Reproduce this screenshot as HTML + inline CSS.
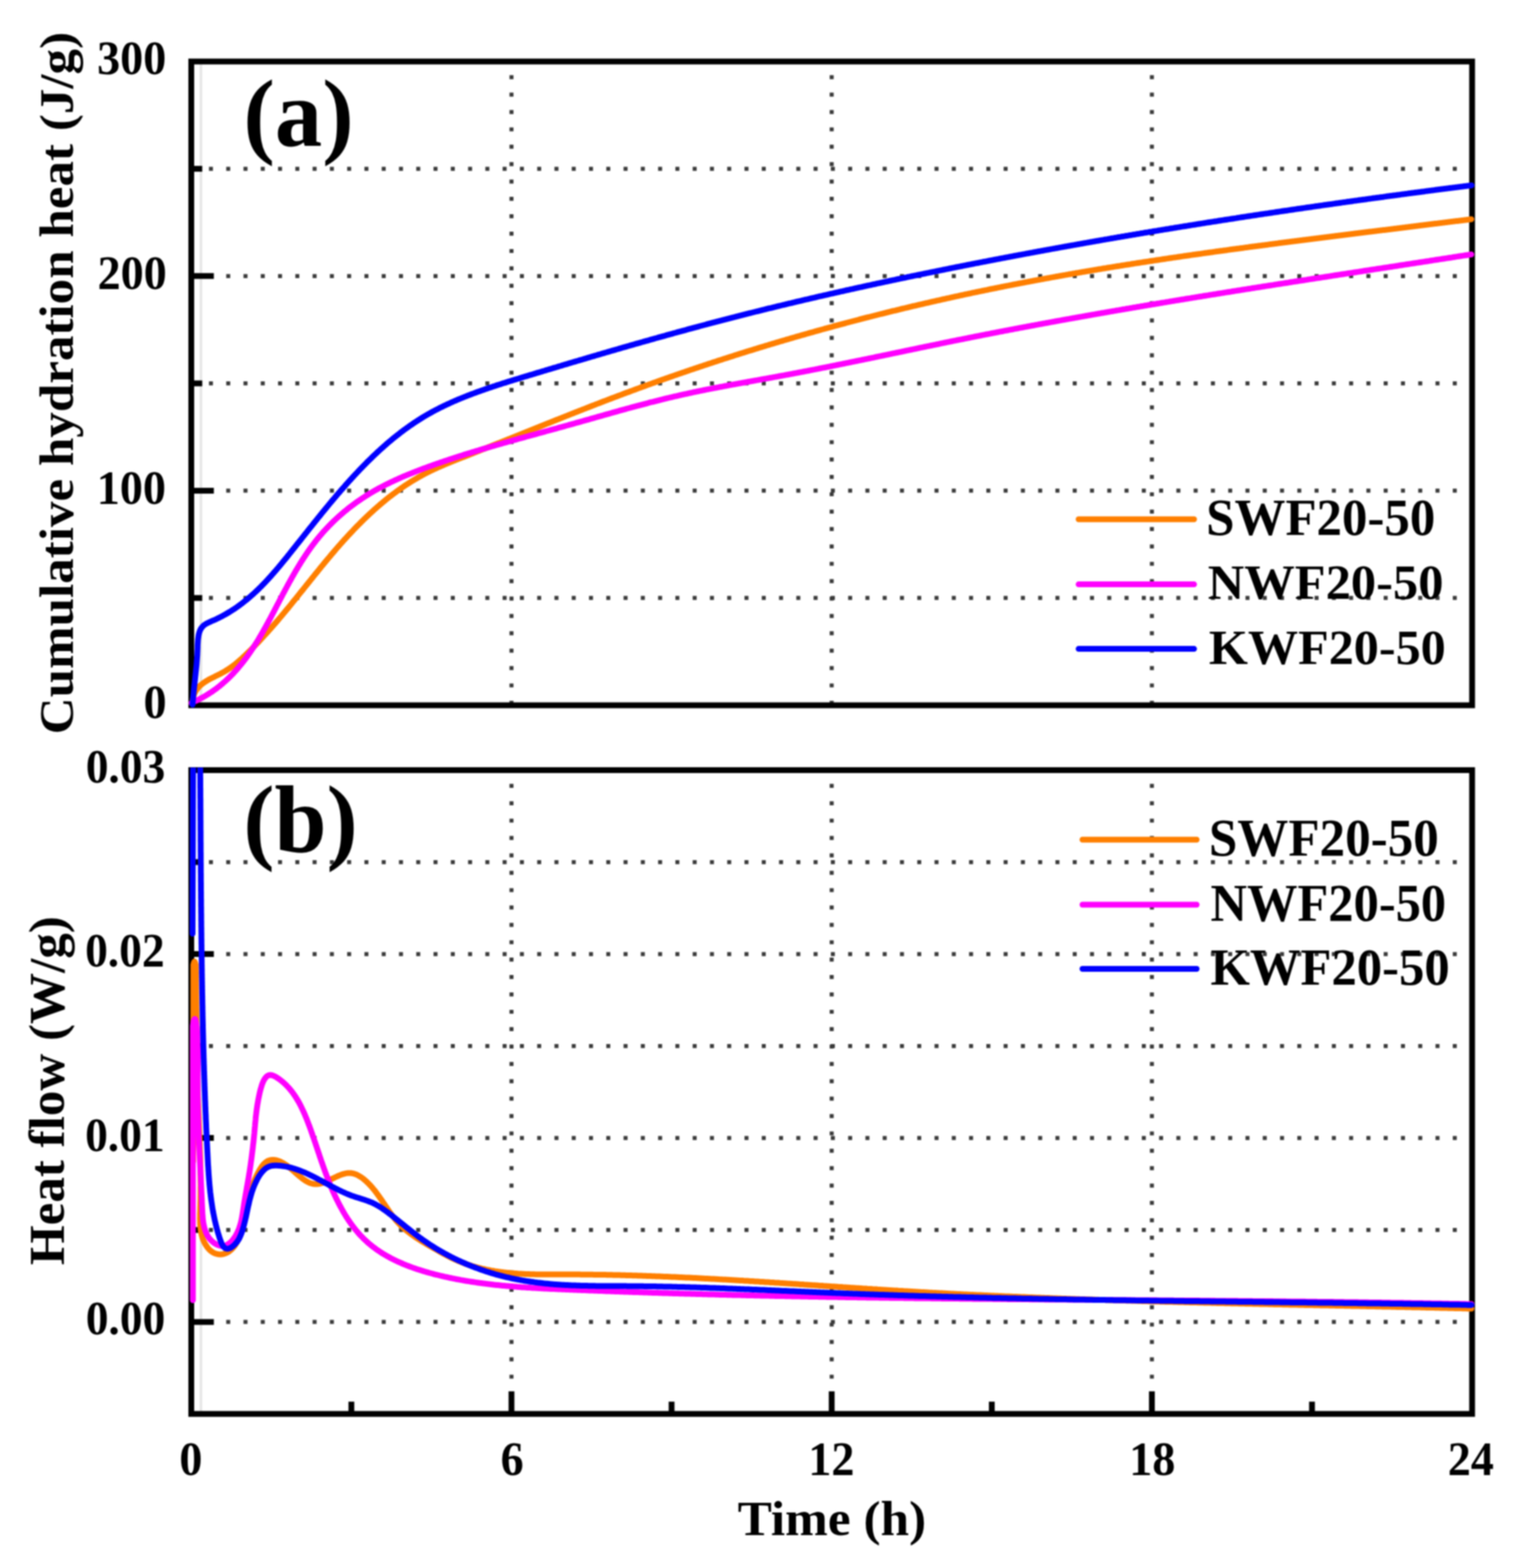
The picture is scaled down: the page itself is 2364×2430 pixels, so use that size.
<!DOCTYPE html>
<html><head><meta charset="utf-8"><title>Hydration heat</title>
<style>html,body{margin:0;padding:0;background:#fff;}svg{display:block;filter:blur(0.8px);}</style></head>
<body><svg xmlns="http://www.w3.org/2000/svg" width="2364" height="2430" viewBox="0 0 2364 2430">
<rect width="2364" height="2430" fill="#fff"/><g stroke="#e6e6e6" stroke-width="4"><line x1="311.5" y1="99.3" x2="311.5" y2="1089.0"/><line x1="311.5" y1="1197.5" x2="311.5" y2="2187.2"/></g><g stroke="#3a3a3a" stroke-width="6.2" stroke-dasharray="6.2 20.58"><line x1="323.90" y1="926.72" x2="2280.00" y2="926.72"/><line x1="323.90" y1="760.43" x2="2280.00" y2="760.43"/><line x1="323.90" y1="594.15" x2="2280.00" y2="594.15"/><line x1="323.90" y1="427.87" x2="2280.00" y2="427.87"/><line x1="323.90" y1="261.58" x2="2280.00" y2="261.58"/><line x1="323.90" y1="2048.67" x2="2280.00" y2="2048.67"/><line x1="323.90" y1="1906.14" x2="2280.00" y2="1906.14"/><line x1="323.90" y1="1763.61" x2="2280.00" y2="1763.61"/><line x1="323.90" y1="1621.09" x2="2280.00" y2="1621.09"/><line x1="323.90" y1="1478.56" x2="2280.00" y2="1478.56"/><line x1="323.90" y1="1336.03" x2="2280.00" y2="1336.03"/></g><g stroke="#3a3a3a" stroke-width="6.2" stroke-dasharray="6.2 20.73"><line x1="792.88" y1="116.60" x2="792.88" y2="1091.00"/><line x1="792.88" y1="1214.80" x2="792.88" y2="2189.20"/><line x1="1289.25" y1="116.60" x2="1289.25" y2="1091.00"/><line x1="1289.25" y1="1214.80" x2="1289.25" y2="2189.20"/><line x1="1785.62" y1="116.60" x2="1785.62" y2="1091.00"/><line x1="1785.62" y1="1214.80" x2="1785.62" y2="2189.20"/></g><g fill="none" stroke="#000" stroke-width="9.0" stroke-linejoin="miter"><rect x="296.5" y="95.3" width="1985.5" height="997.7"/><rect x="296.5" y="1193.5" width="1985.5" height="997.6999999999998"/></g><g stroke="#000" stroke-width="9.0"><line x1="296.5" y1="760.43" x2="331.5" y2="760.43"/><line x1="296.5" y1="427.87" x2="331.5" y2="427.87"/><line x1="296.5" y1="926.72" x2="313.5" y2="926.72"/><line x1="296.5" y1="594.15" x2="313.5" y2="594.15"/><line x1="296.5" y1="261.58" x2="313.5" y2="261.58"/><line x1="296.5" y1="2048.67" x2="331.5" y2="2048.67"/><line x1="296.5" y1="1763.61" x2="331.5" y2="1763.61"/><line x1="296.5" y1="1478.56" x2="331.5" y2="1478.56"/><line x1="296.5" y1="1906.14" x2="313.5" y2="1906.14"/><line x1="296.5" y1="1621.09" x2="313.5" y2="1621.09"/><line x1="296.5" y1="1336.03" x2="313.5" y2="1336.03"/><line x1="792.88" y1="2191.2" x2="792.88" y2="2156.2"/><line x1="1289.25" y1="2191.2" x2="1289.25" y2="2156.2"/><line x1="1785.62" y1="2191.2" x2="1785.62" y2="2156.2"/><line x1="544.69" y1="2191.2" x2="544.69" y2="2172.2"/><line x1="1041.06" y1="2191.2" x2="1041.06" y2="2172.2"/><line x1="1537.44" y1="2191.2" x2="1537.44" y2="2172.2"/><line x1="2033.81" y1="2191.2" x2="2033.81" y2="2172.2"/></g><defs><clipPath id="ca"><rect x="292.5" y="91.3" width="1993.5" height="1005.7"/></clipPath><clipPath id="cb"><rect x="292.5" y="1189.5" width="1993.5" height="1005.6999999999998"/></clipPath></defs><g fill="none" stroke-width="9.0" stroke-linecap="round" stroke-linejoin="round" clip-path="url(#ca)"><path stroke="#ff7f00" d="M298.4 1090.3L298.5 1087.9 298.7 1085.5 299.0 1083.3 299.4 1081.1 300.0 1079.1 300.6 1077.1 301.3 1075.2 302.1 1073.4 303.0 1071.7 304.0 1070.1 305.0 1068.5 306.2 1067.0 307.4 1065.6 308.6 1064.2 309.9 1062.9 311.3 1061.6 312.8 1060.4 314.3 1059.3 315.8 1058.1 317.4 1057.1 319.0 1056.0 320.7 1055.0 322.3 1054.0 324.1 1053.0 325.8 1052.1 327.6 1051.2 329.4 1050.3 331.2 1049.4 333.0 1048.5 334.8 1047.6 336.6 1046.7 338.4 1045.8 340.2 1044.9 342.0 1044.0 343.8 1043.0 345.6 1042.1 347.3 1041.1 349.0 1040.1 350.7 1039.0 352.4 1038.0 354.1 1036.9 355.7 1035.8 357.3 1034.7 358.9 1033.5 360.5 1032.4 362.1 1031.2 363.6 1030.0 365.2 1028.8 366.7 1027.5 368.2 1026.3 369.7 1025.0 371.2 1023.7 372.6 1022.4 374.1 1021.1 375.6 1019.8 377.0 1018.4 378.4 1017.1 379.9 1015.7 381.3 1014.4 382.7 1013.0 384.1 1011.6 385.5 1010.2 387.0 1008.9 388.4 1007.5 389.8 1006.1 391.2 1004.6 392.6 1003.2 394.0 1001.8 395.3 1000.4 396.7 998.9 398.1 997.5 399.5 996.1 400.9 994.6 402.2 993.2 403.6 991.7 405.0 990.2 406.3 988.8 407.7 987.3 409.0 985.8 410.4 984.3 411.7 982.9 413.1 981.4 414.4 979.9 415.8 978.4 417.1 976.9 418.4 975.4 419.8 973.9 421.1 972.4 422.4 970.9 423.7 969.3 425.1 967.8 426.4 966.3 427.7 964.8 429.0 963.2 430.3 961.7 431.6 960.2 432.9 958.6 434.2 957.1 435.5 955.6 436.8 954.0 438.1 952.5 439.4 950.9 440.7 949.4 441.9 947.9 443.2 946.3 444.5 944.8 445.8 943.2 447.1 941.7 448.3 940.1 449.6 938.6 450.9 937.0 452.1 935.5 453.4 933.9 454.6 932.3 455.9 930.8 457.2 929.2 458.4 927.7 459.7 926.1 460.9 924.6 462.2 923.0 463.4 921.4 464.7 919.9 465.9 918.3 467.2 916.8 468.4 915.2 469.7 913.7 470.9 912.1 472.2 910.5 473.4 909.0 474.7 907.4 475.9 905.9 477.2 904.3 478.4 902.7 479.7 901.2 480.9 899.6 482.2 898.1 483.4 896.5 484.7 895.0 485.9 893.4 487.2 891.9 488.4 890.3 489.7 888.8 490.9 887.2 492.2 885.7 493.4 884.1 494.7 882.6 495.9 881.0 497.2 879.5 498.4 877.9 499.7 876.4 501.0 874.8 502.2 873.3 503.5 871.8 504.8 870.2 506.0 868.7 507.3 867.2 508.6 865.6 509.9 864.1 511.2 862.6 512.4 861.1 513.7 859.5 515.0 858.0 516.3 856.5 517.6 855.0 518.9 853.5 520.2 851.9 521.5 850.4 522.8 848.9 524.1 847.4 525.5 845.9 526.8 844.4 528.1 842.9 529.4 841.4 530.8 839.9 532.1 838.4 533.4 836.9 534.8 835.4 536.1 834.0 537.5 832.5 538.8 831.0 540.2 829.5 541.5 828.1 542.9 826.6 544.3 825.1 545.7 823.7 547.1 822.2 548.4 820.8 549.8 819.3 551.2 817.9 552.6 816.4 554.0 815.0 555.4 813.6 556.9 812.1 558.3 810.7 559.7 809.3 561.1 807.9 562.6 806.5 564.0 805.0 565.4 803.6 566.9 802.3 568.3 800.9 569.8 799.5 571.3 798.1 572.7 796.7 574.2 795.4 575.7 794.0 577.2 792.6 578.7 791.3 580.1 789.9 581.6 788.6 583.1 787.3 584.7 785.9 586.2 784.6 587.7 783.3 589.2 782.0 590.7 780.7 592.3 779.4 593.8 778.1 595.4 776.9 596.9 775.6 598.5 774.3 600.0 773.1 601.6 771.8 603.1 770.6 604.7 769.3 606.3 768.1 607.9 766.9 609.5 765.7 611.1 764.5 612.7 763.3 614.3 762.1 615.9 760.9 617.5 759.8 619.1 758.6 620.8 757.4 622.4 756.3 624.1 755.2 625.7 754.0 627.4 752.9 629.0 751.8 630.7 750.7 632.3 749.6 634.0 748.6 635.7 747.5 637.4 746.4 639.1 745.4 640.8 744.4 642.5 743.3 644.2 742.3 645.9 741.3 647.6 740.3 649.4 739.3 651.1 738.3 652.8 737.4 654.6 736.4 656.3 735.5 658.1 734.5 659.9 733.6 661.6 732.7 663.4 731.8 665.2 730.9 667.0 730.0 668.8 729.2 670.6 728.3 672.4 727.5 674.2 726.6 676.0 725.8 677.8 725.0 679.6 724.1 681.4 723.3 683.3 722.5 685.1 721.7 686.9 721.0 688.8 720.2 690.6 719.4 692.5 718.6 694.3 717.9 696.2 717.1 698.0 716.3 699.9 715.6 701.7 714.8 703.6 714.1 705.5 713.3 707.3 712.6 709.2 711.9 711.1 711.1 712.9 710.4 714.8 709.7 716.7 708.9 718.5 708.2 720.4 707.5 722.3 706.7 724.1 706.0 726.0 705.3 727.9 704.5 729.7 703.8 731.6 703.1 733.5 702.3 735.3 701.6 737.2 700.9 739.1 700.1 740.9 699.4 742.8 698.7 744.6 697.9 746.5 697.2 748.4 696.4 750.2 695.7 752.1 695.0 754.0 694.2 755.8 693.5 757.7 692.7 759.6 692.0 761.4 691.3 763.3 690.5 765.1 689.8 767.0 689.0 768.9 688.3 770.7 687.5 772.6 686.8 774.5 686.1 776.3 685.3 778.2 684.6 780.0 683.8 781.9 683.1 783.8 682.3 785.6 681.6 787.5 680.8 789.3 680.1 791.2 679.4 793.1 678.6 794.9 677.9 796.8 677.1 798.6 676.4 800.5 675.6 802.4 674.9 804.2 674.1 806.1 673.4 807.9 672.6 809.8 671.9 811.7 671.1 813.5 670.4 815.4 669.7 817.2 668.9 819.1 668.2 821.0 667.4 822.8 666.7 824.7 665.9 826.5 665.2 828.4 664.4 830.3 663.7 832.1 662.9 834.0 662.2 835.8 661.5 837.7 660.7 839.5 660.0 841.4 659.2 843.3 658.5 845.1 657.7 847.0 657.0 848.8 656.2 850.7 655.5 852.6 654.8 854.4 654.0 856.3 653.3 858.1 652.5 860.0 651.8 861.9 651.0 863.7 650.3 865.6 649.6 867.4 648.8 869.3 648.1 871.2 647.3 873.0 646.6 874.9 645.9 876.7 645.1 878.6 644.4 880.5 643.7 882.3 642.9 884.2 642.2 886.1 641.4 887.9 640.7 889.8 640.0 891.6 639.2 893.5 638.5 895.4 637.8 897.2 637.0 899.1 636.3 901.0 635.6 902.8 634.8 904.7 634.1 906.5 633.4 908.4 632.7 910.3 631.9 912.1 631.2 914.0 630.5 915.9 629.7 917.7 629.0 919.6 628.3 921.5 627.6 923.3 626.8 925.2 626.1 927.1 625.4 928.9 624.7 930.8 624.0 932.7 623.2 934.5 622.5 936.4 621.8 938.3 621.1 940.1 620.4 942.0 619.7 943.9 618.9 945.8 618.2 947.6 617.5 949.5 616.8 951.4 616.1 953.2 615.4 955.1 614.7 957.0 614.0 958.9 613.3 960.7 612.6 962.6 611.9 964.5 611.2 966.4 610.4 968.2 609.7 970.1 609.0 972.0 608.3 973.9 607.7 975.7 607.0 977.6 606.3 979.5 605.6 981.4 604.9 983.2 604.2 985.1 603.5 987.0 602.8 988.9 602.1 990.8 601.4 992.6 600.7 994.5 600.0 996.4 599.4 998.3 598.7 1000.2 598.0 1002.0 597.3 1003.9 596.6 1005.8 595.9 1007.7 595.3 1009.6 594.6 1011.5 593.9 1013.3 593.2 1015.2 592.6 1017.1 591.9 1019.0 591.2 1020.9 590.5 1022.8 589.9 1024.6 589.2 1026.5 588.5 1028.4 587.9 1030.3 587.2 1032.2 586.5 1034.1 585.9 1036.0 585.2 1037.9 584.5 1039.8 583.9 1041.6 583.2 1043.5 582.6 1045.4 581.9 1047.3 581.2 1049.2 580.6 1051.1 579.9 1053.0 579.3 1054.9 578.6 1056.8 578.0 1058.7 577.3 1060.6 576.7 1062.5 576.0 1064.4 575.4 1066.2 574.7 1068.1 574.1 1070.0 573.4 1071.9 572.8 1073.8 572.2 1075.7 571.5 1077.6 570.9 1079.5 570.2 1081.4 569.6 1083.3 569.0 1085.2 568.3 1087.1 567.7 1089.0 567.1 1090.9 566.4 1092.8 565.8 1094.7 565.2 1096.6 564.5 1098.5 563.9 1100.4 563.3 1102.3 562.7 1104.2 562.0 1106.1 561.4 1108.0 560.8 1109.9 560.2 1111.8 559.5 1113.7 558.9 1115.6 558.3 1117.5 557.7 1119.4 557.1 1121.3 556.4 1123.3 555.8 1125.2 555.2 1127.1 554.6 1129.0 554.0 1130.9 553.4 1132.8 552.8 1134.7 552.2 1136.6 551.6 1138.5 550.9 1140.4 550.3 1142.3 549.7 1144.2 549.1 1146.1 548.5 1148.1 547.9 1150.0 547.3 1151.9 546.7 1153.8 546.1 1155.7 545.5 1157.6 544.9 1159.5 544.3 1161.4 543.7 1163.3 543.2 1165.3 542.6 1167.2 542.0 1169.1 541.4 1171.0 540.8 1172.9 540.2 1174.8 539.6 1176.7 539.0 1178.7 538.4 1180.6 537.9 1182.5 537.3 1184.4 536.7 1186.3 536.1 1188.2 535.5 1190.1 535.0 1192.1 534.4 1194.0 533.8 1195.9 533.2 1197.8 532.6 1199.7 532.1 1201.7 531.5 1203.6 530.9 1205.5 530.4 1207.4 529.8 1209.3 529.2 1211.3 528.7 1213.2 528.1 1215.1 527.5 1217.0 527.0 1218.9 526.4 1220.9 525.8 1222.8 525.3 1224.7 524.7 1226.6 524.1 1228.6 523.6 1230.5 523.0 1232.4 522.5 1234.3 521.9 1236.2 521.4 1238.2 520.8 1240.1 520.3 1242.0 519.7 1244.0 519.2 1245.9 518.6 1247.8 518.1 1249.7 517.5 1251.7 517.0 1253.6 516.4 1255.5 515.9 1257.4 515.3 1259.4 514.8 1261.3 514.3 1263.2 513.7 1265.2 513.2 1267.1 512.6 1269.0 512.1 1270.9 511.6 1272.9 511.0 1274.8 510.5 1276.7 510.0 1278.7 509.4 1280.6 508.9 1282.5 508.4 1284.5 507.8 1286.4 507.3 1288.3 506.8 1290.3 506.3 1292.2 505.7 1294.1 505.2 1296.1 504.7 1298.0 504.2 1299.9 503.6 1301.9 503.1 1303.8 502.6 1305.7 502.1 1307.7 501.6 1309.6 501.1 1311.5 500.5 1313.5 500.0 1315.4 499.5 1317.3 499.0 1319.3 498.5 1321.2 498.0 1323.1 497.5 1325.1 497.0 1327.0 496.5 1329.0 496.0 1330.9 495.5 1332.8 494.9 1334.8 494.4 1336.7 493.9 1338.7 493.4 1340.6 492.9 1342.5 492.4 1344.5 491.9 1346.4 491.5 1348.4 491.0 1350.3 490.5 1352.2 490.0 1354.2 489.5 1356.1 489.0 1358.1 488.5 1360.0 488.0 1361.9 487.5 1363.9 487.0 1365.8 486.5 1367.8 486.1 1369.7 485.6 1371.7 485.1 1373.6 484.6 1375.5 484.1 1377.5 483.6 1379.4 483.2 1381.4 482.7 1383.3 482.2 1385.3 481.7 1387.2 481.3 1389.2 480.8 1391.1 480.3 1393.1 479.8 1395.0 479.4 1396.9 478.9 1398.9 478.4 1400.8 478.0 1402.8 477.5 1404.7 477.0 1406.7 476.6 1408.6 476.1 1410.6 475.6 1412.5 475.2 1414.5 474.7 1416.4 474.2 1418.4 473.8 1420.3 473.3 1422.3 472.9 1424.2 472.4 1426.2 472.0 1428.1 471.5 1430.1 471.1 1432.0 470.6 1434.0 470.2 1435.9 469.7 1437.9 469.3 1439.8 468.8 1441.8 468.4 1443.7 467.9 1445.7 467.5 1447.6 467.0 1449.6 466.6 1451.6 466.1 1453.5 465.7 1455.5 465.3 1457.4 464.8 1459.4 464.4 1461.3 463.9 1463.3 463.5 1465.2 463.1 1467.2 462.6 1469.1 462.2 1471.1 461.8 1473.1 461.3 1475.0 460.9 1477.0 460.5 1478.9 460.0 1480.9 459.6 1482.8 459.2 1484.8 458.8 1486.7 458.3 1488.7 457.9 1490.7 457.5 1492.6 457.1 1494.6 456.7 1496.5 456.2 1498.5 455.8 1500.5 455.4 1502.4 455.0 1504.4 454.6 1506.3 454.1 1508.3 453.7 1510.2 453.3 1512.2 452.9 1514.2 452.5 1516.1 452.1 1518.1 451.7 1520.0 451.3 1522.0 450.9 1524.0 450.5 1525.9 450.1 1527.9 449.7 1529.9 449.3 1531.8 448.8 1533.8 448.4 1535.7 448.0 1537.7 447.6 1539.7 447.3 1541.6 446.9 1543.6 446.5 1545.6 446.1 1547.5 445.7 1549.5 445.3 1551.4 444.9 1553.4 444.5 1555.4 444.1 1557.3 443.7 1559.3 443.3 1561.3 442.9 1563.2 442.6 1565.2 442.2 1567.2 441.8 1569.1 441.4 1571.1 441.0 1573.0 440.6 1575.0 440.3 1577.0 439.9 1578.9 439.5 1580.9 439.1 1582.9 438.7 1584.8 438.4 1586.8 438.0 1588.8 437.6 1590.7 437.2 1592.7 436.9 1594.7 436.5 1596.6 436.1 1598.6 435.8 1600.6 435.4 1602.6 435.0 1604.5 434.6 1606.5 434.3 1608.5 433.9 1610.4 433.5 1612.4 433.2 1614.4 432.8 1616.3 432.5 1618.3 432.1 1620.3 431.7 1622.2 431.4 1624.2 431.0 1626.2 430.7 1628.1 430.3 1630.1 429.9 1632.1 429.6 1634.1 429.2 1636.0 428.9 1638.0 428.5 1640.0 428.2 1641.9 427.8 1643.9 427.5 1645.9 427.1 1647.9 426.8 1649.8 426.4 1651.8 426.1 1653.8 425.7 1655.7 425.4 1657.7 425.0 1659.7 424.7 1661.7 424.4 1663.6 424.0 1665.6 423.7 1667.6 423.3 1669.6 423.0 1671.5 422.7 1673.5 422.3 1675.5 422.0 1677.4 421.6 1679.4 421.3 1681.4 421.0 1683.4 420.6 1685.3 420.3 1687.3 420.0 1689.3 419.6 1691.3 419.3 1693.2 419.0 1695.2 418.6 1697.2 418.3 1699.2 418.0 1701.1 417.6 1703.1 417.3 1705.1 417.0 1707.1 416.7 1709.0 416.3 1711.0 416.0 1713.0 415.7 1715.0 415.4 1716.9 415.0 1718.9 414.7 1720.9 414.4 1722.9 414.1 1724.9 413.8 1726.8 413.4 1728.8 413.1 1730.8 412.8 1732.8 412.5 1734.7 412.2 1736.7 411.9 1738.7 411.5 1740.7 411.2 1742.7 410.9 1744.6 410.6 1746.6 410.3 1748.6 410.0 1750.6 409.7 1752.5 409.4 1754.5 409.0 1756.5 408.7 1758.5 408.4 1760.5 408.1 1762.4 407.8 1764.4 407.5 1766.4 407.2 1768.4 406.9 1770.4 406.6 1772.3 406.3 1774.3 406.0 1776.3 405.7 1778.3 405.4 1780.3 405.1 1782.2 404.8 1784.2 404.5 1786.2 404.2 1788.2 403.9 1790.2 403.6 1792.1 403.3 1794.1 403.0 1796.1 402.7 1798.1 402.4 1800.1 402.1 1802.0 401.8 1804.0 401.5 1806.0 401.2 1808.0 400.9 1810.0 400.6 1812.0 400.3 1813.9 400.0 1815.9 399.7 1817.9 399.4 1819.9 399.1 1821.9 398.9 1823.8 398.6 1825.8 398.3 1827.8 398.0 1829.8 397.7 1831.8 397.4 1833.8 397.1 1835.7 396.8 1837.7 396.6 1839.7 396.3 1841.7 396.0 1843.7 395.7 1845.7 395.4 1847.6 395.1 1849.6 394.8 1851.6 394.6 1853.6 394.3 1855.6 394.0 1857.6 393.7 1859.5 393.4 1861.5 393.2 1863.5 392.9 1865.5 392.6 1867.5 392.3 1869.5 392.0 1871.4 391.8 1873.4 391.5 1875.4 391.2 1877.4 390.9 1879.4 390.7 1881.4 390.4 1883.3 390.1 1885.3 389.8 1887.3 389.6 1889.3 389.3 1891.3 389.0 1893.3 388.7 1895.3 388.5 1897.2 388.2 1899.2 387.9 1901.2 387.7 1903.2 387.4 1905.2 387.1 1907.2 386.8 1909.2 386.6 1911.1 386.3 1913.1 386.0 1915.1 385.8 1917.1 385.5 1919.1 385.2 1921.1 385.0 1923.1 384.7 1925.0 384.4 1927.0 384.2 1929.0 383.9 1931.0 383.6 1933.0 383.4 1935.0 383.1 1937.0 382.8 1938.9 382.6 1940.9 382.3 1942.9 382.0 1944.9 381.8 1946.9 381.5 1948.9 381.3 1950.9 381.0 1952.8 380.7 1954.8 380.5 1956.8 380.2 1958.8 379.9 1960.8 379.7 1962.8 379.4 1964.8 379.2 1966.8 378.9 1968.7 378.6 1970.7 378.4 1972.7 378.1 1974.7 377.9 1976.7 377.6 1978.7 377.4 1980.7 377.1 1982.7 376.8 1984.6 376.6 1986.6 376.3 1988.6 376.1 1990.6 375.8 1992.6 375.6 1994.6 375.3 1996.6 375.0 1998.6 374.8 2000.5 374.5 2002.5 374.3 2004.5 374.0 2006.5 373.8 2008.5 373.5 2010.5 373.3 2012.5 373.0 2014.5 372.8 2016.4 372.5 2018.4 372.3 2020.4 372.0 2022.4 371.7 2024.4 371.5 2026.4 371.2 2028.4 371.0 2030.4 370.7 2032.3 370.5 2034.3 370.2 2036.3 370.0 2038.3 369.7 2040.3 369.5 2042.3 369.2 2044.3 369.0 2046.3 368.7 2048.3 368.5 2050.2 368.2 2052.2 368.0 2054.2 367.7 2056.2 367.5 2058.2 367.2 2060.2 367.0 2062.2 366.7 2064.2 366.5 2066.1 366.2 2068.1 366.0 2070.1 365.7 2072.1 365.5 2074.1 365.3 2076.1 365.0 2078.1 364.8 2080.1 364.5 2082.1 364.3 2084.0 364.0 2086.0 363.8 2088.0 363.5 2090.0 363.3 2092.0 363.0 2094.0 362.8 2096.0 362.5 2098.0 362.3 2099.9 362.0 2101.9 361.8 2103.9 361.6 2105.9 361.3 2107.9 361.1 2109.9 360.8 2111.9 360.6 2113.9 360.3 2115.9 360.1 2117.8 359.8 2119.8 359.6 2121.8 359.3 2123.8 359.1 2125.8 358.9 2127.8 358.6 2129.8 358.4 2131.8 358.1 2133.7 357.9 2135.7 357.6 2137.7 357.4 2139.7 357.1 2141.7 356.9 2143.7 356.6 2145.7 356.4 2147.7 356.2 2149.7 355.9 2151.6 355.7 2153.6 355.4 2155.6 355.2 2157.6 354.9 2159.6 354.7 2161.6 354.4 2163.6 354.2 2165.6 354.0 2167.5 353.7 2169.5 353.5 2171.5 353.2 2173.5 353.0 2175.5 352.7 2177.5 352.5 2179.5 352.2 2181.5 352.0 2183.4 351.8 2185.4 351.5 2187.4 351.3 2189.4 351.0 2191.4 350.8 2193.4 350.5 2195.4 350.3 2197.4 350.0 2199.3 349.8 2201.3 349.5 2203.3 349.3 2205.3 349.1 2207.3 348.8 2209.3 348.6 2211.3 348.3 2213.3 348.1 2215.2 347.8 2217.2 347.6 2219.2 347.3 2221.2 347.1 2223.2 346.8 2225.2 346.6 2227.2 346.4 2229.2 346.1 2231.1 345.9 2233.1 345.6 2235.1 345.4 2237.1 345.1 2239.1 344.9 2241.1 344.6 2243.1 344.4 2245.0 344.1 2247.0 343.9 2249.0 343.6 2251.0 343.4 2253.0 343.1 2255.0 342.9 2257.0 342.6 2259.0 342.4 2260.9 342.2 2262.9 341.9 2264.9 341.7 2266.9 341.4 2268.9 341.2 2270.9 340.9 2272.9 340.7 2274.8 340.4 2276.8 340.2 2278.8 339.9 2280.8 339.7"/><path stroke="#ff00ff" d="M296.4 1089.4L298.4 1088.6 300.4 1087.7 302.3 1086.8 304.2 1085.9 306.1 1085.0 308.0 1084.1 309.8 1083.1 311.7 1082.1 313.5 1081.2 315.3 1080.1 317.1 1079.1 318.8 1078.1 320.6 1077.0 322.3 1076.0 324.0 1074.9 325.7 1073.8 327.4 1072.7 329.1 1071.6 330.7 1070.4 332.3 1069.3 334.0 1068.1 335.6 1066.9 337.1 1065.7 338.7 1064.5 340.3 1063.3 341.8 1062.0 343.3 1060.8 344.8 1059.5 346.3 1058.2 347.8 1056.9 349.3 1055.6 350.7 1054.3 352.2 1052.9 353.6 1051.6 355.0 1050.2 356.4 1048.9 357.8 1047.5 359.1 1046.1 360.5 1044.7 361.9 1043.3 363.2 1041.8 364.5 1040.4 365.8 1039.0 367.1 1037.5 368.4 1036.0 369.7 1034.5 370.9 1033.0 372.2 1031.5 373.4 1030.0 374.7 1028.5 375.9 1027.0 377.1 1025.4 378.3 1023.9 379.5 1022.3 380.6 1020.8 381.8 1019.2 383.0 1017.6 384.1 1016.0 385.3 1014.4 386.4 1012.8 387.5 1011.2 388.6 1009.5 389.7 1007.9 390.8 1006.3 391.9 1004.6 393.0 1003.0 394.1 1001.3 395.2 999.6 396.2 997.9 397.3 996.3 398.3 994.6 399.4 992.9 400.4 991.2 401.4 989.5 402.4 987.7 403.5 986.0 404.5 984.3 405.5 982.6 406.5 980.8 407.5 979.1 408.5 977.4 409.4 975.6 410.4 973.9 411.4 972.1 412.4 970.4 413.3 968.6 414.3 966.8 415.3 965.1 416.2 963.3 417.2 961.5 418.1 959.7 419.1 958.0 420.0 956.2 421.0 954.4 421.9 952.6 422.9 950.8 423.8 949.0 424.8 947.2 425.7 945.4 426.6 943.6 427.6 941.9 428.5 940.1 429.4 938.3 430.4 936.5 431.3 934.7 432.3 932.9 433.2 931.1 434.1 929.3 435.1 927.5 436.0 925.7 437.0 923.9 437.9 922.1 438.8 920.3 439.8 918.5 440.7 916.8 441.7 915.0 442.6 913.2 443.6 911.4 444.6 909.6 445.5 907.8 446.5 906.1 447.5 904.3 448.4 902.5 449.4 900.8 450.4 899.0 451.4 897.2 452.3 895.5 453.3 893.7 454.3 892.0 455.3 890.2 456.3 888.5 457.3 886.8 458.3 885.0 459.3 883.3 460.4 881.6 461.4 879.9 462.4 878.1 463.5 876.4 464.5 874.7 465.6 873.0 466.6 871.3 467.7 869.6 468.7 868.0 469.8 866.3 470.9 864.6 472.0 863.0 473.1 861.3 474.2 859.6 475.3 858.0 476.4 856.4 477.5 854.7 478.6 853.1 479.8 851.5 480.9 849.9 482.1 848.3 483.2 846.7 484.4 845.1 485.6 843.5 486.8 842.0 488.0 840.4 489.2 838.9 490.4 837.3 491.6 835.8 492.9 834.3 494.1 832.7 495.3 831.2 496.6 829.7 497.9 828.3 499.2 826.8 500.4 825.3 501.7 823.8 503.1 822.4 504.4 820.9 505.7 819.5 507.0 818.1 508.4 816.7 509.7 815.3 511.1 813.9 512.5 812.5 513.8 811.1 515.2 809.7 516.6 808.4 518.0 807.0 519.4 805.7 520.9 804.3 522.3 803.0 523.7 801.7 525.2 800.4 526.6 799.1 528.1 797.8 529.6 796.5 531.0 795.3 532.5 794.0 534.0 792.7 535.5 791.5 537.1 790.3 538.6 789.0 540.1 787.8 541.6 786.6 543.2 785.4 544.7 784.2 546.3 783.1 547.9 781.9 549.4 780.7 551.0 779.6 552.6 778.4 554.2 777.3 555.8 776.2 557.4 775.1 559.1 774.0 560.7 772.9 562.3 771.8 564.0 770.7 565.6 769.6 567.3 768.6 568.9 767.5 570.6 766.5 572.3 765.4 574.0 764.4 575.7 763.4 577.4 762.4 579.1 761.4 580.8 760.4 582.5 759.4 584.2 758.5 586.0 757.5 587.7 756.6 589.5 755.6 591.2 754.7 593.0 753.8 594.7 752.9 596.5 751.9 598.3 751.0 600.1 750.2 601.9 749.3 603.6 748.4 605.4 747.5 607.2 746.7 609.1 745.8 610.9 745.0 612.7 744.1 614.5 743.3 616.3 742.5 618.2 741.6 620.0 740.8 621.8 740.0 623.7 739.2 625.5 738.4 627.4 737.6 629.2 736.9 631.1 736.1 633.0 735.3 634.8 734.6 636.7 733.8 638.6 733.1 640.4 732.3 642.3 731.6 644.2 730.8 646.1 730.1 647.9 729.4 649.8 728.6 651.7 727.9 653.6 727.2 655.5 726.5 657.4 725.8 659.3 725.1 661.2 724.4 663.1 723.7 665.0 723.0 666.9 722.4 668.8 721.7 670.7 721.0 672.6 720.3 674.5 719.6 676.4 719.0 678.3 718.3 680.2 717.7 682.1 717.0 684.0 716.3 685.9 715.7 687.9 715.0 689.8 714.4 691.7 713.8 693.6 713.1 695.5 712.5 697.4 711.8 699.3 711.2 701.2 710.6 703.2 710.0 705.1 709.3 707.0 708.7 708.9 708.1 710.8 707.5 712.7 706.9 714.7 706.3 716.6 705.7 718.5 705.0 720.4 704.4 722.3 703.8 724.3 703.2 726.2 702.7 728.1 702.1 730.0 701.5 731.9 700.9 733.9 700.3 735.8 699.7 737.7 699.1 739.6 698.5 741.6 698.0 743.5 697.4 745.4 696.8 747.3 696.2 749.3 695.7 751.2 695.1 753.1 694.5 755.0 694.0 757.0 693.4 758.9 692.8 760.8 692.3 762.8 691.7 764.7 691.1 766.6 690.6 768.5 690.0 770.5 689.5 772.4 688.9 774.3 688.4 776.3 687.8 778.2 687.3 780.1 686.7 782.1 686.2 784.0 685.6 785.9 685.1 787.9 684.5 789.8 684.0 791.7 683.5 793.6 682.9 795.6 682.4 797.5 681.8 799.4 681.3 801.4 680.8 803.3 680.2 805.2 679.7 807.2 679.2 809.1 678.6 811.0 678.1 813.0 677.6 814.9 677.0 816.8 676.5 818.8 676.0 820.7 675.4 822.6 674.9 824.6 674.4 826.5 673.8 828.4 673.3 830.4 672.8 832.3 672.3 834.2 671.7 836.2 671.2 838.1 670.7 840.0 670.1 842.0 669.6 843.9 669.1 845.8 668.5 847.8 668.0 849.7 667.5 851.6 667.0 853.6 666.4 855.5 665.9 857.4 665.4 859.4 664.8 861.3 664.3 863.2 663.8 865.2 663.2 867.1 662.7 869.0 662.2 871.0 661.6 872.9 661.1 874.8 660.6 876.7 660.0 878.7 659.5 880.6 659.0 882.5 658.4 884.5 657.9 886.4 657.4 888.3 656.8 890.2 656.3 892.2 655.7 894.1 655.2 896.0 654.7 897.9 654.1 899.9 653.6 901.8 653.0 903.7 652.5 905.7 651.9 907.6 651.4 909.5 650.8 911.4 650.3 913.4 649.8 915.3 649.2 917.2 648.7 919.1 648.1 921.1 647.6 923.0 647.0 924.9 646.5 926.8 645.9 928.8 645.4 930.7 644.9 932.6 644.3 934.5 643.8 936.5 643.2 938.4 642.7 940.3 642.1 942.2 641.6 944.2 641.1 946.1 640.5 948.0 640.0 949.9 639.4 951.9 638.9 953.8 638.4 955.7 637.8 957.6 637.3 959.6 636.7 961.5 636.2 963.4 635.7 965.3 635.1 967.3 634.6 969.2 634.1 971.1 633.5 973.0 633.0 975.0 632.5 976.9 632.0 978.8 631.4 980.8 630.9 982.7 630.4 984.6 629.9 986.5 629.4 988.5 628.8 990.4 628.3 992.3 627.8 994.3 627.3 996.2 626.8 998.1 626.3 1000.1 625.8 1002.0 625.3 1003.9 624.8 1005.9 624.2 1007.8 623.7 1009.7 623.2 1011.7 622.8 1013.6 622.3 1015.5 621.8 1017.5 621.3 1019.4 620.8 1021.4 620.3 1023.3 619.8 1025.2 619.3 1027.2 618.9 1029.1 618.4 1031.1 617.9 1033.0 617.4 1034.9 617.0 1036.9 616.5 1038.8 616.0 1040.8 615.6 1042.7 615.1 1044.7 614.7 1046.6 614.2 1048.6 613.8 1050.5 613.3 1052.5 612.9 1054.4 612.4 1056.4 612.0 1058.3 611.5 1060.3 611.1 1062.2 610.7 1064.2 610.3 1066.1 609.8 1068.1 609.4 1070.0 609.0 1072.0 608.6 1073.9 608.2 1075.9 607.7 1077.9 607.3 1079.8 606.9 1081.8 606.5 1083.7 606.1 1085.7 605.7 1087.7 605.3 1089.6 604.9 1091.6 604.5 1093.5 604.1 1095.5 603.7 1097.5 603.3 1099.4 602.9 1101.4 602.6 1103.4 602.2 1105.3 601.8 1107.3 601.4 1109.3 601.0 1111.2 600.7 1113.2 600.3 1115.2 599.9 1117.1 599.5 1119.1 599.2 1121.1 598.8 1123.0 598.4 1125.0 598.0 1127.0 597.7 1128.9 597.3 1130.9 596.9 1132.9 596.6 1134.9 596.2 1136.8 595.8 1138.8 595.5 1140.8 595.1 1142.7 594.8 1144.7 594.4 1146.7 594.0 1148.7 593.7 1150.6 593.3 1152.6 593.0 1154.6 592.6 1156.5 592.3 1158.5 591.9 1160.5 591.5 1162.5 591.2 1164.4 590.8 1166.4 590.5 1168.4 590.1 1170.4 589.8 1172.3 589.4 1174.3 589.1 1176.3 588.7 1178.2 588.4 1180.2 588.0 1182.2 587.6 1184.2 587.3 1186.1 586.9 1188.1 586.6 1190.1 586.2 1192.1 585.9 1194.0 585.5 1196.0 585.2 1198.0 584.8 1199.9 584.4 1201.9 584.1 1203.9 583.7 1205.9 583.4 1207.8 583.0 1209.8 582.6 1211.8 582.3 1213.8 581.9 1215.7 581.6 1217.7 581.2 1219.7 580.8 1221.6 580.5 1223.6 580.1 1225.6 579.7 1227.5 579.4 1229.5 579.0 1231.5 578.6 1233.5 578.2 1235.4 577.9 1237.4 577.5 1239.4 577.1 1241.3 576.7 1243.3 576.4 1245.3 576.0 1247.2 575.6 1249.2 575.2 1251.2 574.9 1253.1 574.5 1255.1 574.1 1257.1 573.7 1259.0 573.3 1261.0 572.9 1263.0 572.6 1264.9 572.2 1266.9 571.8 1268.9 571.4 1270.8 571.0 1272.8 570.6 1274.8 570.2 1276.7 569.8 1278.7 569.5 1280.7 569.1 1282.6 568.7 1284.6 568.3 1286.6 567.9 1288.5 567.5 1290.5 567.1 1292.4 566.7 1294.4 566.3 1296.4 565.9 1298.3 565.5 1300.3 565.1 1302.3 564.7 1304.2 564.3 1306.2 563.9 1308.1 563.5 1310.1 563.1 1312.1 562.7 1314.0 562.3 1316.0 561.9 1318.0 561.5 1319.9 561.1 1321.9 560.7 1323.8 560.3 1325.8 559.9 1327.8 559.5 1329.7 559.1 1331.7 558.7 1333.7 558.3 1335.6 557.9 1337.6 557.5 1339.5 557.1 1341.5 556.7 1343.5 556.3 1345.4 555.9 1347.4 555.5 1349.3 555.1 1351.3 554.7 1353.3 554.3 1355.2 553.9 1357.2 553.4 1359.1 553.0 1361.1 552.6 1363.1 552.2 1365.0 551.8 1367.0 551.4 1368.9 551.0 1370.9 550.6 1372.9 550.2 1374.8 549.8 1376.8 549.4 1378.7 549.0 1380.7 548.5 1382.7 548.1 1384.6 547.7 1386.6 547.3 1388.5 546.9 1390.5 546.5 1392.5 546.1 1394.4 545.7 1396.4 545.3 1398.3 544.9 1400.3 544.5 1402.3 544.0 1404.2 543.6 1406.2 543.2 1408.1 542.8 1410.1 542.4 1412.1 542.0 1414.0 541.6 1416.0 541.2 1417.9 540.8 1419.9 540.4 1421.9 540.0 1423.8 539.5 1425.8 539.1 1427.7 538.7 1429.7 538.3 1431.7 537.9 1433.6 537.5 1435.6 537.1 1437.5 536.7 1439.5 536.3 1441.5 535.9 1443.4 535.5 1445.4 535.1 1447.4 534.7 1449.3 534.3 1451.3 533.9 1453.2 533.5 1455.2 533.1 1457.2 532.6 1459.1 532.2 1461.1 531.8 1463.0 531.4 1465.0 531.0 1467.0 530.6 1468.9 530.2 1470.9 529.8 1472.8 529.4 1474.8 529.0 1476.8 528.6 1478.7 528.2 1480.7 527.8 1482.7 527.4 1484.6 527.0 1486.6 526.6 1488.5 526.2 1490.5 525.9 1492.5 525.5 1494.4 525.1 1496.4 524.7 1498.4 524.3 1500.3 523.9 1502.3 523.5 1504.2 523.1 1506.2 522.7 1508.2 522.3 1510.1 521.9 1512.1 521.5 1514.1 521.1 1516.0 520.8 1518.0 520.4 1520.0 520.0 1521.9 519.6 1523.9 519.2 1525.9 518.8 1527.8 518.4 1529.8 518.0 1531.7 517.7 1533.7 517.3 1535.7 516.9 1537.6 516.5 1539.6 516.1 1541.6 515.8 1543.5 515.4 1545.5 515.0 1547.5 514.6 1549.4 514.2 1551.4 513.8 1553.4 513.5 1555.3 513.1 1557.3 512.7 1559.3 512.3 1561.2 512.0 1563.2 511.6 1565.2 511.2 1567.1 510.8 1569.1 510.5 1571.1 510.1 1573.0 509.7 1575.0 509.3 1577.0 509.0 1578.9 508.6 1580.9 508.2 1582.9 507.8 1584.8 507.5 1586.8 507.1 1588.8 506.7 1590.8 506.4 1592.7 506.0 1594.7 505.6 1596.7 505.3 1598.6 504.9 1600.6 504.5 1602.6 504.2 1604.5 503.8 1606.5 503.4 1608.5 503.1 1610.4 502.7 1612.4 502.3 1614.4 502.0 1616.3 501.6 1618.3 501.2 1620.3 500.9 1622.3 500.5 1624.2 500.2 1626.2 499.8 1628.2 499.4 1630.1 499.1 1632.1 498.7 1634.1 498.4 1636.0 498.0 1638.0 497.6 1640.0 497.3 1642.0 496.9 1643.9 496.6 1645.9 496.2 1647.9 495.8 1649.8 495.5 1651.8 495.1 1653.8 494.8 1655.8 494.4 1657.7 494.1 1659.7 493.7 1661.7 493.4 1663.6 493.0 1665.6 492.7 1667.6 492.3 1669.6 492.0 1671.5 491.6 1673.5 491.3 1675.5 490.9 1677.4 490.6 1679.4 490.2 1681.4 489.9 1683.4 489.5 1685.3 489.2 1687.3 488.8 1689.3 488.5 1691.3 488.1 1693.2 487.8 1695.2 487.4 1697.2 487.1 1699.1 486.7 1701.1 486.4 1703.1 486.0 1705.1 485.7 1707.0 485.3 1709.0 485.0 1711.0 484.7 1713.0 484.3 1714.9 484.0 1716.9 483.6 1718.9 483.3 1720.9 482.9 1722.8 482.6 1724.8 482.3 1726.8 481.9 1728.8 481.6 1730.7 481.2 1732.7 480.9 1734.7 480.6 1736.7 480.2 1738.6 479.9 1740.6 479.5 1742.6 479.2 1744.6 478.9 1746.5 478.5 1748.5 478.2 1750.5 477.9 1752.5 477.5 1754.4 477.2 1756.4 476.8 1758.4 476.5 1760.4 476.2 1762.3 475.8 1764.3 475.5 1766.3 475.2 1768.3 474.8 1770.2 474.5 1772.2 474.2 1774.2 473.8 1776.2 473.5 1778.1 473.2 1780.1 472.8 1782.1 472.5 1784.1 472.2 1786.0 471.8 1788.0 471.5 1790.0 471.2 1792.0 470.9 1793.9 470.5 1795.9 470.2 1797.9 469.9 1799.9 469.5 1801.8 469.2 1803.8 468.9 1805.8 468.6 1807.8 468.2 1809.8 467.9 1811.7 467.6 1813.7 467.2 1815.7 466.9 1817.7 466.6 1819.6 466.3 1821.6 465.9 1823.6 465.6 1825.6 465.3 1827.5 465.0 1829.5 464.6 1831.5 464.3 1833.5 464.0 1835.5 463.7 1837.4 463.3 1839.4 463.0 1841.4 462.7 1843.4 462.4 1845.3 462.1 1847.3 461.7 1849.3 461.4 1851.3 461.1 1853.3 460.8 1855.2 460.4 1857.2 460.1 1859.2 459.8 1861.2 459.5 1863.1 459.2 1865.1 458.8 1867.1 458.5 1869.1 458.2 1871.1 457.9 1873.0 457.6 1875.0 457.2 1877.0 456.9 1879.0 456.6 1881.0 456.3 1882.9 456.0 1884.9 455.7 1886.9 455.3 1888.9 455.0 1890.8 454.7 1892.8 454.4 1894.8 454.1 1896.8 453.8 1898.8 453.4 1900.7 453.1 1902.7 452.8 1904.7 452.5 1906.7 452.2 1908.7 451.9 1910.6 451.5 1912.6 451.2 1914.6 450.9 1916.6 450.6 1918.5 450.3 1920.5 450.0 1922.5 449.7 1924.5 449.3 1926.5 449.0 1928.4 448.7 1930.4 448.4 1932.4 448.1 1934.4 447.8 1936.4 447.5 1938.3 447.2 1940.3 446.8 1942.3 446.5 1944.3 446.2 1946.3 445.9 1948.2 445.6 1950.2 445.3 1952.2 445.0 1954.2 444.7 1956.2 444.3 1958.1 444.0 1960.1 443.7 1962.1 443.4 1964.1 443.1 1966.1 442.8 1968.0 442.5 1970.0 442.2 1972.0 441.9 1974.0 441.6 1976.0 441.2 1977.9 440.9 1979.9 440.6 1981.9 440.3 1983.9 440.0 1985.9 439.7 1987.8 439.4 1989.8 439.1 1991.8 438.8 1993.8 438.5 1995.8 438.2 1997.7 437.9 1999.7 437.5 2001.7 437.2 2003.7 436.9 2005.7 436.6 2007.6 436.3 2009.6 436.0 2011.6 435.7 2013.6 435.4 2015.6 435.1 2017.5 434.8 2019.5 434.5 2021.5 434.2 2023.5 433.9 2025.5 433.6 2027.4 433.2 2029.4 432.9 2031.4 432.6 2033.4 432.3 2035.4 432.0 2037.3 431.7 2039.3 431.4 2041.3 431.1 2043.3 430.8 2045.3 430.5 2047.2 430.2 2049.2 429.9 2051.2 429.6 2053.2 429.3 2055.2 429.0 2057.1 428.7 2059.1 428.4 2061.1 428.1 2063.1 427.8 2065.1 427.4 2067.0 427.1 2069.0 426.8 2071.0 426.5 2073.0 426.2 2075.0 425.9 2076.9 425.6 2078.9 425.3 2080.9 425.0 2082.9 424.7 2084.9 424.4 2086.8 424.1 2088.8 423.8 2090.8 423.5 2092.8 423.2 2094.8 422.9 2096.7 422.6 2098.7 422.3 2100.7 422.0 2102.7 421.7 2104.7 421.4 2106.6 421.1 2108.6 420.8 2110.6 420.5 2112.6 420.1 2114.6 419.8 2116.5 419.5 2118.5 419.2 2120.5 418.9 2122.5 418.6 2124.5 418.3 2126.4 418.0 2128.4 417.7 2130.4 417.4 2132.4 417.1 2134.4 416.8 2136.3 416.5 2138.3 416.2 2140.3 415.9 2142.3 415.6 2144.3 415.3 2146.2 415.0 2148.2 414.7 2150.2 414.4 2152.2 414.1 2154.2 413.8 2156.1 413.5 2158.1 413.2 2160.1 412.9 2162.1 412.6 2164.1 412.3 2166.0 412.0 2168.0 411.6 2170.0 411.3 2172.0 411.0 2174.0 410.7 2175.9 410.4 2177.9 410.1 2179.9 409.8 2181.9 409.5 2183.8 409.2 2185.8 408.9 2187.8 408.6 2189.8 408.3 2191.8 408.0 2193.7 407.7 2195.7 407.4 2197.7 407.1 2199.7 406.8 2201.7 406.5 2203.6 406.2 2205.6 405.9 2207.6 405.6 2209.6 405.3 2211.6 405.0 2213.5 404.7 2215.5 404.4 2217.5 404.0 2219.5 403.7 2221.5 403.4 2223.4 403.1 2225.4 402.8 2227.4 402.5 2229.4 402.2 2231.3 401.9 2233.3 401.6 2235.3 401.3 2237.3 401.0 2239.3 400.7 2241.2 400.4 2243.2 400.1 2245.2 399.8 2247.2 399.5 2249.2 399.2 2251.1 398.9 2253.1 398.5 2255.1 398.2 2257.1 397.9 2259.0 397.6 2261.0 397.3 2263.0 397.0 2265.0 396.7 2267.0 396.4 2268.9 396.1 2270.9 395.8 2272.9 395.5 2274.9 395.2 2276.8 394.9 2278.8 394.6 2280.8 394.3"/><path stroke="#0000ff" d="M298.5 1092.1L298.7 1090.0 298.8 1087.9 299.0 1085.8 299.2 1083.8 299.3 1081.7 299.5 1079.7 299.7 1077.7 299.9 1075.7 300.1 1073.7 300.3 1071.7 300.5 1069.7 300.7 1067.8 300.9 1065.8 301.1 1063.8 301.3 1061.9 301.6 1060.0 301.8 1058.0 302.0 1056.1 302.2 1054.2 302.4 1052.2 302.6 1050.3 302.8 1048.4 303.0 1046.5 303.2 1044.5 303.4 1042.6 303.6 1040.6 303.8 1038.7 304.0 1036.7 304.2 1034.8 304.4 1032.8 304.6 1030.8 304.8 1028.8 304.9 1026.8 305.1 1024.8 305.2 1022.8 305.4 1020.7 305.5 1018.7 305.7 1016.6 305.8 1014.5 305.9 1012.4 306.0 1010.3 306.1 1008.1 306.2 1005.9 306.3 1003.7 306.3 1001.5 306.4 999.3 306.5 997.1 306.7 994.9 306.8 992.7 307.0 990.5 307.3 988.4 307.6 986.3 307.9 984.2 308.4 982.2 308.9 980.3 309.5 978.5 310.3 976.7 311.1 975.0 312.1 973.4 313.2 972.0 314.4 970.6 315.7 969.3 317.2 968.2 318.8 967.2 320.5 966.2 322.3 965.3 324.1 964.4 325.9 963.6 327.8 962.7 329.7 961.9 331.6 961.1 333.5 960.3 335.3 959.4 337.1 958.5 339.0 957.6 340.8 956.7 342.6 955.8 344.3 954.9 346.1 953.9 347.8 953.0 349.6 952.0 351.3 951.0 353.0 950.0 354.7 949.0 356.4 948.0 358.0 947.0 359.7 945.9 361.3 944.8 363.0 943.8 364.6 942.7 366.2 941.6 367.8 940.5 369.4 939.3 371.0 938.2 372.5 937.0 374.1 935.9 375.6 934.7 377.1 933.5 378.7 932.3 380.2 931.1 381.7 929.9 383.2 928.7 384.7 927.5 386.1 926.2 387.6 925.0 389.0 923.7 390.5 922.4 391.9 921.1 393.4 919.8 394.8 918.5 396.2 917.2 397.6 915.9 399.0 914.6 400.4 913.2 401.8 911.9 403.1 910.5 404.5 909.2 405.9 907.8 407.2 906.4 408.6 905.0 409.9 903.6 411.3 902.2 412.6 900.8 413.9 899.4 415.2 898.0 416.5 896.5 417.8 895.1 419.1 893.7 420.4 892.2 421.7 890.7 423.0 889.3 424.3 887.8 425.6 886.3 426.9 884.9 428.2 883.4 429.4 881.9 430.7 880.4 432.0 878.9 433.2 877.4 434.5 875.9 435.7 874.4 437.0 872.9 438.2 871.3 439.5 869.8 440.7 868.3 442.0 866.8 443.2 865.2 444.5 863.7 445.7 862.1 446.9 860.6 448.2 859.0 449.4 857.5 450.7 855.9 451.9 854.4 453.1 852.8 454.4 851.3 455.6 849.7 456.9 848.1 458.1 846.6 459.3 845.0 460.6 843.4 461.8 841.9 463.1 840.3 464.3 838.7 465.6 837.2 466.8 835.6 468.1 834.0 469.3 832.4 470.6 830.9 471.8 829.3 473.1 827.7 474.3 826.1 475.6 824.6 476.8 823.0 478.1 821.4 479.3 819.8 480.6 818.2 481.8 816.7 483.1 815.1 484.4 813.5 485.6 811.9 486.9 810.3 488.2 808.7 489.4 807.2 490.7 805.6 492.0 804.0 493.2 802.4 494.5 800.9 495.8 799.3 497.1 797.7 498.3 796.1 499.6 794.5 500.9 793.0 502.2 791.4 503.5 789.8 504.8 788.3 506.1 786.7 507.3 785.1 508.6 783.6 509.9 782.0 511.2 780.4 512.5 778.9 513.8 777.3 515.1 775.8 516.4 774.2 517.8 772.6 519.1 771.1 520.4 769.5 521.7 768.0 523.0 766.4 524.3 764.9 525.7 763.4 527.0 761.8 528.3 760.3 529.6 758.8 531.0 757.2 532.3 755.7 533.7 754.2 535.0 752.7 536.3 751.1 537.7 749.6 539.0 748.1 540.4 746.6 541.7 745.1 543.1 743.6 544.5 742.1 545.8 740.6 547.2 739.1 548.6 737.6 549.9 736.1 551.3 734.7 552.7 733.2 554.1 731.7 555.5 730.2 556.9 728.8 558.3 727.3 559.7 725.9 561.1 724.4 562.5 723.0 563.9 721.5 565.3 720.1 566.7 718.7 568.1 717.2 569.5 715.8 571.0 714.4 572.4 713.0 573.8 711.6 575.3 710.2 576.7 708.8 578.1 707.4 579.6 706.0 581.0 704.6 582.5 703.3 584.0 701.9 585.4 700.5 586.9 699.2 588.4 697.8 589.8 696.5 591.3 695.1 592.8 693.8 594.3 692.5 595.8 691.2 597.3 689.8 598.8 688.5 600.3 687.2 601.8 685.9 603.3 684.6 604.8 683.4 606.4 682.1 607.9 680.8 609.4 679.6 611.0 678.3 612.5 677.1 614.0 675.8 615.6 674.6 617.2 673.4 618.7 672.2 620.3 670.9 621.9 669.7 623.4 668.6 625.0 667.4 626.6 666.2 628.2 665.0 629.8 663.9 631.4 662.7 633.0 661.6 634.6 660.4 636.2 659.3 637.8 658.2 639.5 657.1 641.1 655.9 642.7 654.9 644.4 653.8 646.0 652.7 647.7 651.6 649.3 650.6 651.0 649.5 652.7 648.5 654.4 647.4 656.0 646.4 657.7 645.4 659.4 644.4 661.1 643.4 662.8 642.4 664.5 641.4 666.2 640.5 668.0 639.5 669.7 638.5 671.4 637.6 673.2 636.7 674.9 635.7 676.7 634.8 678.4 633.9 680.2 633.0 681.9 632.1 683.7 631.2 685.5 630.4 687.2 629.5 689.0 628.6 690.8 627.8 692.6 626.9 694.4 626.1 696.2 625.3 698.0 624.5 699.8 623.6 701.6 622.8 703.4 622.0 705.3 621.2 707.1 620.5 708.9 619.7 710.7 618.9 712.6 618.1 714.4 617.4 716.3 616.6 718.1 615.9 720.0 615.1 721.8 614.4 723.7 613.7 725.5 612.9 727.4 612.2 729.3 611.5 731.1 610.8 733.0 610.1 734.9 609.4 736.7 608.7 738.6 608.0 740.5 607.3 742.4 606.6 744.3 606.0 746.2 605.3 748.1 604.6 750.0 604.0 751.9 603.3 753.8 602.6 755.7 602.0 757.6 601.3 759.5 600.7 761.4 600.1 763.3 599.4 765.2 598.8 767.1 598.2 769.0 597.5 770.9 596.9 772.9 596.3 774.8 595.7 776.7 595.1 778.6 594.4 780.5 593.8 782.5 593.2 784.4 592.6 786.3 592.0 788.2 591.4 790.2 590.8 792.1 590.2 794.0 589.6 796.0 589.0 797.9 588.4 799.8 587.9 801.7 587.3 803.7 586.7 805.6 586.1 807.5 585.5 809.5 584.9 811.4 584.3 813.3 583.7 815.3 583.2 817.2 582.6 819.1 582.0 821.1 581.4 823.0 580.8 824.9 580.3 826.8 579.7 828.8 579.1 830.7 578.5 832.6 577.9 834.6 577.3 836.5 576.8 838.4 576.2 840.4 575.6 842.3 575.0 844.2 574.5 846.1 573.9 848.1 573.3 850.0 572.7 851.9 572.1 853.8 571.6 855.8 571.0 857.7 570.4 859.6 569.8 861.6 569.3 863.5 568.7 865.4 568.1 867.3 567.5 869.3 567.0 871.2 566.4 873.1 565.8 875.0 565.2 877.0 564.7 878.9 564.1 880.8 563.5 882.7 562.9 884.6 562.4 886.6 561.8 888.5 561.2 890.4 560.7 892.3 560.1 894.3 559.5 896.2 559.0 898.1 558.4 900.0 557.8 902.0 557.3 903.9 556.7 905.8 556.1 907.7 555.6 909.6 555.0 911.6 554.4 913.5 553.9 915.4 553.3 917.3 552.7 919.3 552.2 921.2 551.6 923.1 551.0 925.0 550.5 926.9 549.9 928.9 549.3 930.8 548.8 932.7 548.2 934.6 547.7 936.5 547.1 938.5 546.5 940.4 546.0 942.3 545.4 944.2 544.9 946.1 544.3 948.1 543.7 950.0 543.2 951.9 542.6 953.8 542.1 955.7 541.5 957.7 541.0 959.6 540.4 961.5 539.9 963.4 539.3 965.3 538.7 967.3 538.2 969.2 537.6 971.1 537.1 973.0 536.5 974.9 536.0 976.9 535.4 978.8 534.9 980.7 534.3 982.6 533.8 984.5 533.2 986.5 532.7 988.4 532.1 990.3 531.6 992.2 531.1 994.1 530.5 996.1 530.0 998.0 529.4 999.9 528.9 1001.8 528.3 1003.8 527.8 1005.7 527.3 1007.6 526.7 1009.5 526.2 1011.4 525.6 1013.4 525.1 1015.3 524.5 1017.2 524.0 1019.1 523.5 1021.0 522.9 1023.0 522.4 1024.9 521.9 1026.8 521.3 1028.7 520.8 1030.7 520.3 1032.6 519.7 1034.5 519.2 1036.4 518.7 1038.3 518.1 1040.3 517.6 1042.2 517.1 1044.1 516.5 1046.0 516.0 1048.0 515.5 1049.9 514.9 1051.8 514.4 1053.7 513.9 1055.7 513.4 1057.6 512.8 1059.5 512.3 1061.4 511.8 1063.4 511.3 1065.3 510.7 1067.2 510.2 1069.1 509.7 1071.1 509.2 1073.0 508.6 1074.9 508.1 1076.8 507.6 1078.8 507.1 1080.7 506.6 1082.6 506.1 1084.5 505.5 1086.5 505.0 1088.4 504.5 1090.3 504.0 1092.2 503.5 1094.2 503.0 1096.1 502.4 1098.0 501.9 1100.0 501.4 1101.9 500.9 1103.8 500.4 1105.7 499.9 1107.7 499.4 1109.6 498.9 1111.5 498.4 1113.5 497.9 1115.4 497.4 1117.3 496.9 1119.3 496.4 1121.2 495.8 1123.1 495.3 1125.1 494.8 1127.0 494.3 1128.9 493.8 1130.9 493.3 1132.8 492.8 1134.7 492.3 1136.7 491.8 1138.6 491.4 1140.5 490.9 1142.5 490.4 1144.4 489.9 1146.3 489.4 1148.3 488.9 1150.2 488.4 1152.1 487.9 1154.1 487.4 1156.0 486.9 1158.0 486.4 1159.9 485.9 1161.8 485.4 1163.8 485.0 1165.7 484.5 1167.6 484.0 1169.6 483.5 1171.5 483.0 1173.5 482.5 1175.4 482.1 1177.3 481.6 1179.3 481.1 1181.2 480.6 1183.2 480.1 1185.1 479.7 1187.1 479.2 1189.0 478.7 1190.9 478.2 1192.9 477.7 1194.8 477.3 1196.8 476.8 1198.7 476.3 1200.7 475.8 1202.6 475.4 1204.5 474.9 1206.5 474.4 1208.4 474.0 1210.4 473.5 1212.3 473.0 1214.3 472.5 1216.2 472.1 1218.2 471.6 1220.1 471.1 1222.0 470.7 1224.0 470.2 1225.9 469.8 1227.9 469.3 1229.8 468.8 1231.8 468.4 1233.7 467.9 1235.7 467.4 1237.6 467.0 1239.6 466.5 1241.5 466.1 1243.5 465.6 1245.4 465.1 1247.4 464.7 1249.3 464.2 1251.3 463.8 1253.2 463.3 1255.2 462.9 1257.1 462.4 1259.1 462.0 1261.0 461.5 1263.0 461.1 1264.9 460.6 1266.9 460.1 1268.8 459.7 1270.8 459.2 1272.7 458.8 1274.7 458.4 1276.6 457.9 1278.6 457.5 1280.6 457.0 1282.5 456.6 1284.5 456.1 1286.4 455.7 1288.4 455.2 1290.3 454.8 1292.3 454.3 1294.2 453.9 1296.2 453.5 1298.1 453.0 1300.1 452.6 1302.0 452.1 1304.0 451.7 1306.0 451.3 1307.9 450.8 1309.9 450.4 1311.8 449.9 1313.8 449.5 1315.7 449.1 1317.7 448.6 1319.7 448.2 1321.6 447.8 1323.6 447.3 1325.5 446.9 1327.5 446.5 1329.4 446.0 1331.4 445.6 1333.4 445.2 1335.3 444.8 1337.3 444.3 1339.2 443.9 1341.2 443.5 1343.1 443.0 1345.1 442.6 1347.1 442.2 1349.0 441.8 1351.0 441.3 1352.9 440.9 1354.9 440.5 1356.9 440.1 1358.8 439.6 1360.8 439.2 1362.7 438.8 1364.7 438.4 1366.7 438.0 1368.6 437.5 1370.6 437.1 1372.5 436.7 1374.5 436.3 1376.5 435.9 1378.4 435.4 1380.4 435.0 1382.3 434.6 1384.3 434.2 1386.3 433.8 1388.2 433.4 1390.2 432.9 1392.1 432.5 1394.1 432.1 1396.1 431.7 1398.0 431.3 1400.0 430.9 1402.0 430.5 1403.9 430.1 1405.9 429.7 1407.8 429.2 1409.8 428.8 1411.8 428.4 1413.7 428.0 1415.7 427.6 1417.7 427.2 1419.6 426.8 1421.6 426.4 1423.5 426.0 1425.5 425.6 1427.5 425.2 1429.4 424.8 1431.4 424.4 1433.4 424.0 1435.3 423.6 1437.3 423.2 1439.3 422.8 1441.2 422.4 1443.2 422.0 1445.1 421.6 1447.1 421.2 1449.1 420.8 1451.0 420.4 1453.0 420.0 1455.0 419.6 1456.9 419.2 1458.9 418.8 1460.9 418.4 1462.8 418.0 1464.8 417.6 1466.8 417.2 1468.7 416.8 1470.7 416.4 1472.6 416.0 1474.6 415.6 1476.6 415.2 1478.5 414.8 1480.5 414.4 1482.5 414.0 1484.4 413.6 1486.4 413.3 1488.4 412.9 1490.3 412.5 1492.3 412.1 1494.3 411.7 1496.2 411.3 1498.2 410.9 1500.2 410.5 1502.1 410.1 1504.1 409.8 1506.0 409.4 1508.0 409.0 1510.0 408.6 1511.9 408.2 1513.9 407.8 1515.9 407.5 1517.8 407.1 1519.8 406.7 1521.8 406.3 1523.7 405.9 1525.7 405.5 1527.7 405.2 1529.6 404.8 1531.6 404.4 1533.6 404.0 1535.5 403.6 1537.5 403.3 1539.5 402.9 1541.4 402.5 1543.4 402.1 1545.4 401.7 1547.3 401.4 1549.3 401.0 1551.3 400.6 1553.2 400.2 1555.2 399.9 1557.2 399.5 1559.1 399.1 1561.1 398.7 1563.1 398.4 1565.0 398.0 1567.0 397.6 1569.0 397.3 1570.9 396.9 1572.9 396.5 1574.9 396.1 1576.8 395.8 1578.8 395.4 1580.8 395.0 1582.7 394.7 1584.7 394.3 1586.7 393.9 1588.6 393.6 1590.6 393.2 1592.6 392.8 1594.5 392.5 1596.5 392.1 1598.5 391.7 1600.5 391.4 1602.4 391.0 1604.4 390.6 1606.4 390.3 1608.3 389.9 1610.3 389.5 1612.3 389.2 1614.2 388.8 1616.2 388.5 1618.2 388.1 1620.1 387.7 1622.1 387.4 1624.1 387.0 1626.0 386.7 1628.0 386.3 1630.0 385.9 1632.0 385.6 1633.9 385.2 1635.9 384.9 1637.9 384.5 1639.8 384.2 1641.8 383.8 1643.8 383.4 1645.7 383.1 1647.7 382.7 1649.7 382.4 1651.6 382.0 1653.6 381.7 1655.6 381.3 1657.6 381.0 1659.5 380.6 1661.5 380.3 1663.5 379.9 1665.4 379.6 1667.4 379.2 1669.4 378.9 1671.3 378.5 1673.3 378.2 1675.3 377.8 1677.3 377.5 1679.2 377.1 1681.2 376.8 1683.2 376.4 1685.1 376.1 1687.1 375.7 1689.1 375.4 1691.0 375.0 1693.0 374.7 1695.0 374.3 1697.0 374.0 1698.9 373.6 1700.9 373.3 1702.9 373.0 1704.8 372.6 1706.8 372.3 1708.8 371.9 1710.8 371.6 1712.7 371.2 1714.7 370.9 1716.7 370.6 1718.6 370.2 1720.6 369.9 1722.6 369.5 1724.6 369.2 1726.5 368.9 1728.5 368.5 1730.5 368.2 1732.4 367.8 1734.4 367.5 1736.4 367.2 1738.4 366.8 1740.3 366.5 1742.3 366.2 1744.3 365.8 1746.3 365.5 1748.2 365.2 1750.2 364.8 1752.2 364.5 1754.1 364.2 1756.1 363.8 1758.1 363.5 1760.1 363.2 1762.0 362.8 1764.0 362.5 1766.0 362.2 1768.0 361.8 1769.9 361.5 1771.9 361.2 1773.9 360.8 1775.8 360.5 1777.8 360.2 1779.8 359.9 1781.8 359.5 1783.7 359.2 1785.7 358.9 1787.7 358.5 1789.7 358.2 1791.6 357.9 1793.6 357.6 1795.6 357.2 1797.6 356.9 1799.5 356.6 1801.5 356.3 1803.5 355.9 1805.5 355.6 1807.4 355.3 1809.4 355.0 1811.4 354.7 1813.4 354.3 1815.3 354.0 1817.3 353.7 1819.3 353.4 1821.2 353.0 1823.2 352.7 1825.2 352.4 1827.2 352.1 1829.1 351.8 1831.1 351.4 1833.1 351.1 1835.1 350.8 1837.1 350.5 1839.0 350.2 1841.0 349.9 1843.0 349.5 1845.0 349.2 1846.9 348.9 1848.9 348.6 1850.9 348.3 1852.9 348.0 1854.8 347.6 1856.8 347.3 1858.8 347.0 1860.8 346.7 1862.7 346.4 1864.7 346.1 1866.7 345.8 1868.7 345.4 1870.6 345.1 1872.6 344.8 1874.6 344.5 1876.6 344.2 1878.5 343.9 1880.5 343.6 1882.5 343.3 1884.5 343.0 1886.5 342.7 1888.4 342.3 1890.4 342.0 1892.4 341.7 1894.4 341.4 1896.3 341.1 1898.3 340.8 1900.3 340.5 1902.3 340.2 1904.2 339.9 1906.2 339.6 1908.2 339.3 1910.2 339.0 1912.2 338.7 1914.1 338.4 1916.1 338.1 1918.1 337.7 1920.1 337.4 1922.0 337.1 1924.0 336.8 1926.0 336.5 1928.0 336.2 1930.0 335.9 1931.9 335.6 1933.9 335.3 1935.9 335.0 1937.9 334.7 1939.8 334.4 1941.8 334.1 1943.8 333.8 1945.8 333.5 1947.8 333.2 1949.7 332.9 1951.7 332.6 1953.7 332.3 1955.7 332.0 1957.7 331.7 1959.6 331.4 1961.6 331.1 1963.6 330.9 1965.6 330.6 1967.6 330.3 1969.5 330.0 1971.5 329.7 1973.5 329.4 1975.5 329.1 1977.5 328.8 1979.4 328.5 1981.4 328.2 1983.4 327.9 1985.4 327.6 1987.4 327.3 1989.3 327.0 1991.3 326.7 1993.3 326.4 1995.3 326.2 1997.3 325.9 1999.2 325.6 2001.2 325.3 2003.2 325.0 2005.2 324.7 2007.2 324.4 2009.1 324.1 2011.1 323.8 2013.1 323.5 2015.1 323.3 2017.1 323.0 2019.0 322.7 2021.0 322.4 2023.0 322.1 2025.0 321.8 2027.0 321.5 2029.0 321.2 2030.9 321.0 2032.9 320.7 2034.9 320.4 2036.9 320.1 2038.9 319.8 2040.8 319.5 2042.8 319.3 2044.8 319.0 2046.8 318.7 2048.8 318.4 2050.8 318.1 2052.7 317.8 2054.7 317.6 2056.7 317.3 2058.7 317.0 2060.7 316.7 2062.6 316.4 2064.6 316.2 2066.6 315.9 2068.6 315.6 2070.6 315.3 2072.6 315.0 2074.5 314.8 2076.5 314.5 2078.5 314.2 2080.5 313.9 2082.5 313.6 2084.5 313.4 2086.4 313.1 2088.4 312.8 2090.4 312.5 2092.4 312.3 2094.4 312.0 2096.4 311.7 2098.3 311.4 2100.3 311.1 2102.3 310.9 2104.3 310.6 2106.3 310.3 2108.3 310.0 2110.2 309.8 2112.2 309.5 2114.2 309.2 2116.2 309.0 2118.2 308.7 2120.2 308.4 2122.2 308.1 2124.1 307.9 2126.1 307.6 2128.1 307.3 2130.1 307.0 2132.1 306.8 2134.1 306.5 2136.1 306.2 2138.0 306.0 2140.0 305.7 2142.0 305.4 2144.0 305.2 2146.0 304.9 2148.0 304.6 2149.9 304.3 2151.9 304.1 2153.9 303.8 2155.9 303.5 2157.9 303.3 2159.9 303.0 2161.9 302.7 2163.8 302.5 2165.8 302.2 2167.8 301.9 2169.8 301.7 2171.8 301.4 2173.8 301.1 2175.8 300.9 2177.8 300.6 2179.7 300.4 2181.7 300.1 2183.7 299.8 2185.7 299.6 2187.7 299.3 2189.7 299.0 2191.7 298.8 2193.7 298.5 2195.6 298.2 2197.6 298.0 2199.6 297.7 2201.6 297.5 2203.6 297.2 2205.6 296.9 2207.6 296.7 2209.6 296.4 2211.5 296.1 2213.5 295.9 2215.5 295.6 2217.5 295.4 2219.5 295.1 2221.5 294.9 2223.5 294.6 2225.5 294.3 2227.4 294.1 2229.4 293.8 2231.4 293.6 2233.4 293.3 2235.4 293.0 2237.4 292.8 2239.4 292.5 2241.4 292.3 2243.4 292.0 2245.3 291.8 2247.3 291.5 2249.3 291.2 2251.3 291.0 2253.3 290.7 2255.3 290.5 2257.3 290.2 2259.3 290.0 2261.3 289.7 2263.2 289.5 2265.2 289.2 2267.2 289.0 2269.2 288.7 2271.2 288.4 2273.2 288.2 2275.2 287.9 2277.2 287.7 2279.2 287.4 2281.2 287.2"/></g><g fill="none" stroke-width="9.0" stroke-linecap="round" stroke-linejoin="round" clip-path="url(#cb)"><path stroke="#ff7f00" d="M299.5 1800L299.8 1495Q301.5 1485 303.3 1495L304.2 1560L305.1 1599.9L305.0 1602.0 305.0 1604.0 305.0 1606.1 304.9 1608.1 304.9 1610.2 304.9 1612.2 304.9 1614.2 304.8 1616.3 304.8 1618.3 304.8 1620.3 304.8 1622.3 304.8 1624.4 304.8 1626.4 304.8 1628.4 304.8 1630.4 304.8 1632.5 304.9 1634.5 304.9 1636.5 304.9 1638.5 304.9 1640.5 304.9 1642.5 305.0 1644.5 305.0 1646.5 305.0 1648.5 305.1 1650.6 305.1 1652.6 305.1 1654.6 305.2 1656.6 305.2 1658.6 305.3 1660.6 305.3 1662.6 305.4 1664.6 305.4 1666.5 305.5 1668.5 305.5 1670.5 305.6 1672.5 305.7 1674.5 305.7 1676.5 305.8 1678.5 305.9 1680.5 305.9 1682.5 306.0 1684.5 306.1 1686.5 306.1 1688.4 306.2 1690.4 306.3 1692.4 306.4 1694.4 306.4 1696.4 306.5 1698.4 306.6 1700.4 306.7 1702.3 306.8 1704.3 306.8 1706.3 306.9 1708.3 307.0 1710.3 307.1 1712.2 307.2 1714.2 307.3 1716.2 307.3 1718.2 307.4 1720.2 307.5 1722.1 307.6 1724.1 307.7 1726.1 307.8 1728.1 307.9 1730.1 308.0 1732.0 308.0 1734.0 308.1 1736.0 308.2 1738.0 308.3 1740.0 308.4 1741.9 308.5 1743.9 308.6 1745.9 308.6 1747.9 308.7 1749.9 308.8 1751.9 308.9 1753.8 309.0 1755.8 309.1 1757.8 309.1 1759.8 309.2 1761.8 309.3 1763.8 309.4 1765.7 309.4 1767.7 309.5 1769.7 309.6 1771.7 309.7 1773.7 309.7 1775.7 309.8 1777.7 309.9 1779.7 309.9 1781.7 310.0 1783.7 310.1 1785.7 310.1 1787.6 310.2 1789.6 310.3 1791.6 310.3 1793.6 310.4 1795.6 310.4 1797.6 310.5 1799.6 310.5 1801.6 310.6 1803.6 310.6 1805.7 310.7 1807.7 310.7 1809.7 310.7 1811.7 310.8 1813.7 310.8 1815.7 310.8 1817.7 310.8 1819.7 310.9 1821.7 310.9 1823.8 310.9 1825.8 310.9 1827.8 310.9 1829.8 310.9 1831.9 311.0 1833.9 311.0 1835.9 311.0 1837.9 310.9 1840.0 310.9 1842.0 310.9 1844.1 310.9 1846.1 310.9 1848.1 310.9 1850.2 310.9 1852.2 310.8 1854.3 310.8 1856.3 310.8 1858.4 310.7 1860.4 310.7 1862.5 310.6 1864.5 310.6 1866.6 310.5 1868.7 310.4 1870.7 310.4 1872.8 310.3 1874.9 310.3 1876.9 310.2 1879.0 310.1 1881.1 310.1 1883.1 310.1 1885.2 310.0 1887.2 310.0 1889.3 310.1 1891.3 310.1 1893.4 310.2 1895.4 310.3 1897.4 310.4 1899.4 310.6 1901.4 310.8 1903.4 311.0 1905.4 311.3 1907.3 311.6 1909.2 312.0 1911.2 312.4 1913.1 312.9 1915.0 313.4 1916.8 314.0 1918.7 314.6 1920.5 315.4 1922.3 316.1 1924.1 317.0 1925.8 317.9 1927.5 318.9 1929.2 320.0 1930.9 321.1 1932.5 322.3 1934.1 323.6 1935.6 325.0 1937.0 326.5 1938.4 328.0 1939.5 329.7 1940.6 331.4 1941.6 333.1 1942.3 334.9 1943.0 336.8 1943.5 338.7 1943.8 340.5 1944.0 342.4 1944.0 344.3 1943.8 346.2 1943.4 348.0 1942.9 349.9 1942.2 351.6 1941.4 353.4 1940.5 355.1 1939.4 356.7 1938.2 358.2 1936.9 359.7 1935.5 361.1 1934.0 362.4 1932.5 363.7 1930.9 364.8 1929.2 365.9 1927.4 366.9 1925.6 367.9 1923.7 368.8 1921.8 369.6 1919.9 370.4 1917.9 371.1 1915.9 371.8 1913.9 372.5 1911.8 373.1 1909.8 373.7 1907.7 374.2 1905.7 374.8 1903.6 375.3 1901.6 375.8 1899.5 376.3 1897.5 376.8 1895.5 377.2 1893.5 377.7 1891.6 378.1 1889.6 378.6 1887.7 379.0 1885.7 379.4 1883.8 379.8 1881.9 380.2 1880.0 380.6 1878.0 381.0 1876.1 381.4 1874.2 381.9 1872.4 382.3 1870.5 382.7 1868.6 383.1 1866.7 383.5 1864.8 384.0 1863.0 384.4 1861.1 384.9 1859.2 385.4 1857.3 385.9 1855.5 386.4 1853.6 386.9 1851.7 387.4 1849.8 388.0 1847.9 388.5 1846.0 389.1 1844.1 389.8 1842.2 390.4 1840.3 391.1 1838.4 391.8 1836.5 392.5 1834.5 393.2 1832.6 394.0 1830.6 394.8 1828.6 395.7 1826.6 396.6 1824.6 397.5 1822.6 398.5 1820.6 399.5 1818.6 400.5 1816.6 401.6 1814.6 402.7 1812.6 403.9 1810.7 405.1 1808.9 406.3 1807.1 407.6 1805.5 408.9 1804.0 410.3 1802.6 411.7 1801.4 413.2 1800.3 414.7 1799.4 416.2 1798.7 417.8 1798.2 419.4 1797.8 421.0 1797.6 422.7 1797.5 424.4 1797.5 426.1 1797.7 427.8 1798.0 429.6 1798.4 431.3 1799.0 433.0 1799.6 434.8 1800.3 436.5 1801.2 438.3 1802.1 440.0 1803.1 441.7 1804.2 443.4 1805.3 445.1 1806.5 446.7 1807.8 448.4 1809.1 450.0 1810.4 451.6 1811.8 453.3 1813.2 454.9 1814.6 456.5 1816.0 458.1 1817.5 459.7 1818.9 461.3 1820.3 462.9 1821.7 464.5 1823.0 466.1 1824.3 467.7 1825.6 469.3 1826.8 470.9 1828.0 472.6 1829.1 474.2 1830.2 475.9 1831.1 477.5 1832.0 479.2 1832.8 480.9 1833.5 482.6 1834.0 484.4 1834.5 486.1 1834.8 487.9 1835.0 489.7 1835.1 491.5 1835.0 493.4 1834.8 495.2 1834.5 497.1 1834.1 499.0 1833.5 500.9 1832.9 502.9 1832.2 504.8 1831.4 506.8 1830.6 508.7 1829.7 510.7 1828.8 512.7 1827.8 514.7 1826.8 516.7 1825.9 518.7 1824.9 520.7 1824.0 522.6 1823.1 524.6 1822.2 526.6 1821.4 528.6 1820.6 530.6 1819.9 532.5 1819.3 534.5 1818.8 536.4 1818.4 538.3 1818.1 540.2 1818.0 542.1 1817.9 544.0 1818.0 545.8 1818.3 547.6 1818.7 549.4 1819.2 551.2 1819.8 553.0 1820.5 554.7 1821.3 556.4 1822.3 558.1 1823.3 559.8 1824.3 561.4 1825.5 563.0 1826.7 564.6 1828.0 566.1 1829.3 567.7 1830.7 569.1 1832.1 570.6 1833.5 572.0 1835.0 573.4 1836.4 574.8 1837.9 576.2 1839.5 577.5 1841.0 578.8 1842.6 580.1 1844.1 581.4 1845.7 582.6 1847.4 583.8 1849.0 585.0 1850.6 586.2 1852.3 587.4 1853.9 588.6 1855.6 589.8 1857.3 590.9 1858.9 592.1 1860.6 593.2 1862.3 594.3 1864.0 595.5 1865.7 596.6 1867.3 597.7 1869.0 598.9 1870.7 600.0 1872.4 601.1 1874.0 602.3 1875.7 603.4 1877.4 604.6 1879.0 605.7 1880.6 606.9 1882.2 608.1 1883.8 609.3 1885.4 610.5 1887.0 611.7 1888.5 613.0 1890.1 614.2 1891.6 615.5 1893.0 616.8 1894.5 618.1 1895.9 619.5 1897.3 620.9 1898.7 622.3 1900.1 623.7 1901.4 625.1 1902.7 626.6 1904.0 628.0 1905.3 629.5 1906.6 631.0 1907.8 632.6 1909.0 634.1 1910.2 635.7 1911.4 637.3 1912.6 638.9 1913.7 640.5 1914.9 642.1 1916.0 643.7 1917.1 645.4 1918.2 647.0 1919.3 648.7 1920.4 650.4 1921.4 652.1 1922.5 653.8 1923.6 655.5 1924.6 657.2 1925.6 659.0 1926.7 660.7 1927.7 662.5 1928.7 664.2 1929.8 666.0 1930.8 667.7 1931.8 669.5 1932.8 671.3 1933.8 673.1 1934.9 674.9 1935.9 676.7 1936.9 678.4 1937.9 680.2 1938.9 682.0 1940.0 683.8 1941.0 685.7 1942.0 687.5 1943.0 689.3 1943.9 691.1 1944.9 692.9 1945.9 694.8 1946.8 696.6 1947.8 698.4 1948.7 700.3 1949.6 702.1 1950.5 703.9 1951.3 705.8 1952.2 707.6 1953.0 709.5 1953.8 711.4 1954.6 713.2 1955.3 715.1 1956.1 717.0 1956.8 718.8 1957.5 720.7 1958.2 722.6 1958.9 724.5 1959.5 726.4 1960.2 728.3 1960.8 730.2 1961.4 732.1 1962.0 734.0 1962.5 735.9 1963.1 737.8 1963.6 739.7 1964.2 741.6 1964.7 743.5 1965.1 745.4 1965.6 747.4 1966.1 749.3 1966.5 751.2 1966.9 753.1 1967.4 755.1 1967.8 757.0 1968.1 758.9 1968.5 760.9 1968.9 762.8 1969.2 764.8 1969.5 766.7 1969.9 768.7 1970.2 770.6 1970.5 772.6 1970.8 774.5 1971.0 776.5 1971.3 778.5 1971.5 780.4 1971.8 782.4 1972.0 784.4 1972.2 786.3 1972.4 788.3 1972.6 790.3 1972.8 792.2 1973.0 794.2 1973.2 796.2 1973.3 798.2 1973.5 800.2 1973.6 802.2 1973.7 804.1 1973.9 806.1 1974.0 808.1 1974.1 810.1 1974.2 812.1 1974.3 814.1 1974.4 816.1 1974.5 818.1 1974.5 820.1 1974.6 822.1 1974.7 824.1 1974.7 826.1 1974.8 828.1 1974.8 830.1 1974.9 832.1 1974.9 834.1 1975.0 836.1 1975.0 838.1 1975.0 840.1 1975.0 842.1 1975.1 844.1 1975.1 846.1 1975.1 848.1 1975.1 850.1 1975.1 852.1 1975.1 854.2 1975.1 856.2 1975.1 858.2 1975.1 860.2 1975.1 862.2 1975.1 864.2 1975.1 866.2 1975.1 868.2 1975.1 870.2 1975.1 872.3 1975.1 874.3 1975.1 876.3 1975.1 878.3 1975.1 880.3 1975.1 882.3 1975.1 884.3 1975.1 886.3 1975.1 888.4 1975.1 890.4 1975.1 892.4 1975.1 894.4 1975.1 896.4 1975.1 898.4 1975.1 900.4 1975.2 902.4 1975.2 904.4 1975.2 906.4 1975.2 908.5 1975.2 910.5 1975.2 912.5 1975.3 914.5 1975.3 916.5 1975.3 918.5 1975.3 920.5 1975.4 922.5 1975.4 924.5 1975.4 926.5 1975.4 928.5 1975.5 930.6 1975.5 932.6 1975.5 934.6 1975.6 936.6 1975.6 938.6 1975.6 940.6 1975.7 942.6 1975.7 944.6 1975.8 946.6 1975.8 948.6 1975.8 950.6 1975.9 952.6 1975.9 954.6 1976.0 956.7 1976.0 958.7 1976.1 960.7 1976.1 962.7 1976.2 964.7 1976.2 966.7 1976.3 968.7 1976.3 970.7 1976.4 972.7 1976.4 974.7 1976.5 976.7 1976.5 978.7 1976.6 980.7 1976.7 982.7 1976.7 984.7 1976.8 986.7 1976.8 988.7 1976.9 990.7 1977.0 992.7 1977.0 994.7 1977.1 996.8 1977.2 998.8 1977.2 1000.8 1977.3 1002.8 1977.4 1004.8 1977.4 1006.8 1977.5 1008.8 1977.6 1010.8 1977.7 1012.8 1977.7 1014.8 1977.8 1016.8 1977.9 1018.8 1978.0 1020.8 1978.0 1022.8 1978.1 1024.8 1978.2 1026.8 1978.3 1028.8 1978.4 1030.8 1978.4 1032.8 1978.5 1034.8 1978.6 1036.8 1978.7 1038.8 1978.8 1040.8 1978.9 1042.8 1978.9 1044.8 1979.0 1046.8 1979.1 1048.8 1979.2 1050.8 1979.3 1052.8 1979.4 1054.8 1979.5 1056.8 1979.6 1058.8 1979.7 1060.8 1979.8 1062.8 1979.9 1064.8 1980.0 1066.8 1980.1 1068.8 1980.1 1070.8 1980.2 1072.8 1980.3 1074.8 1980.4 1076.8 1980.5 1078.8 1980.6 1080.8 1980.7 1082.8 1980.8 1084.8 1980.9 1086.8 1981.0 1088.8 1981.2 1090.8 1981.3 1092.8 1981.4 1094.8 1981.5 1096.8 1981.6 1098.8 1981.7 1100.8 1981.8 1102.8 1981.9 1104.8 1982.0 1106.8 1982.1 1108.8 1982.2 1110.8 1982.3 1112.8 1982.4 1114.8 1982.6 1116.8 1982.7 1118.8 1982.8 1120.8 1982.9 1122.8 1983.0 1124.8 1983.1 1126.8 1983.2 1128.8 1983.3 1130.8 1983.5 1132.8 1983.6 1134.8 1983.7 1136.8 1983.8 1138.8 1983.9 1140.8 1984.0 1142.8 1984.2 1144.8 1984.3 1146.8 1984.4 1148.8 1984.5 1150.8 1984.6 1152.8 1984.8 1154.8 1984.9 1156.8 1985.0 1158.8 1985.1 1160.8 1985.2 1162.8 1985.4 1164.8 1985.5 1166.8 1985.6 1168.8 1985.7 1170.8 1985.9 1172.8 1986.0 1174.8 1986.1 1176.8 1986.2 1178.7 1986.4 1180.7 1986.5 1182.7 1986.6 1184.7 1986.7 1186.7 1986.9 1188.7 1987.0 1190.7 1987.1 1192.7 1987.2 1194.7 1987.4 1196.7 1987.5 1198.7 1987.6 1200.7 1987.8 1202.7 1987.9 1204.7 1988.0 1206.7 1988.1 1208.7 1988.3 1210.7 1988.4 1212.7 1988.5 1214.7 1988.7 1216.7 1988.8 1218.7 1988.9 1220.7 1989.1 1222.7 1989.2 1224.7 1989.3 1226.7 1989.4 1228.7 1989.6 1230.7 1989.7 1232.7 1989.8 1234.6 1990.0 1236.6 1990.1 1238.6 1990.2 1240.6 1990.4 1242.6 1990.5 1244.6 1990.6 1246.6 1990.8 1248.6 1990.9 1250.6 1991.0 1252.6 1991.2 1254.6 1991.3 1256.6 1991.4 1258.6 1991.6 1260.6 1991.7 1262.6 1991.8 1264.6 1992.0 1266.6 1992.1 1268.6 1992.2 1270.6 1992.4 1272.6 1992.5 1274.6 1992.6 1276.6 1992.8 1278.6 1992.9 1280.6 1993.0 1282.6 1993.2 1284.5 1993.3 1286.5 1993.4 1288.5 1993.6 1290.5 1993.7 1292.5 1993.8 1294.5 1994.0 1296.5 1994.1 1298.5 1994.2 1300.5 1994.4 1302.5 1994.5 1304.5 1994.6 1306.5 1994.8 1308.5 1994.9 1310.5 1995.0 1312.5 1995.2 1314.5 1995.3 1316.5 1995.4 1318.5 1995.6 1320.5 1995.7 1322.5 1995.8 1324.5 1995.9 1326.5 1996.1 1328.5 1996.2 1330.5 1996.3 1332.5 1996.5 1334.4 1996.6 1336.4 1996.7 1338.4 1996.9 1340.4 1997.0 1342.4 1997.1 1344.4 1997.3 1346.4 1997.4 1348.4 1997.5 1350.4 1997.6 1352.4 1997.8 1354.4 1997.9 1356.4 1998.0 1358.4 1998.1 1360.4 1998.3 1362.4 1998.4 1364.4 1998.5 1366.4 1998.7 1368.4 1998.8 1370.4 1998.9 1372.4 1999.0 1374.4 1999.2 1376.4 1999.3 1378.4 1999.4 1380.4 1999.5 1382.4 1999.7 1384.4 1999.8 1386.4 1999.9 1388.4 2000.0 1390.4 2000.1 1392.3 2000.3 1394.3 2000.4 1396.3 2000.5 1398.3 2000.6 1400.3 2000.7 1402.3 2000.9 1404.3 2001.0 1406.3 2001.1 1408.3 2001.2 1410.3 2001.3 1412.3 2001.5 1414.3 2001.6 1416.3 2001.7 1418.3 2001.8 1420.3 2001.9 1422.3 2002.0 1424.3 2002.2 1426.3 2002.3 1428.3 2002.4 1430.3 2002.5 1432.3 2002.6 1434.3 2002.7 1436.3 2002.8 1438.3 2002.9 1440.3 2003.1 1442.3 2003.2 1444.3 2003.3 1446.3 2003.4 1448.3 2003.5 1450.3 2003.6 1452.3 2003.7 1454.3 2003.8 1456.3 2003.9 1458.3 2004.0 1460.3 2004.1 1462.3 2004.2 1464.3 2004.3 1466.3 2004.5 1468.3 2004.6 1470.3 2004.7 1472.3 2004.8 1474.3 2004.9 1476.3 2005.0 1478.3 2005.1 1480.3 2005.2 1482.3 2005.3 1484.3 2005.4 1486.3 2005.5 1488.3 2005.6 1490.3 2005.7 1492.3 2005.8 1494.3 2005.9 1496.3 2006.0 1498.3 2006.1 1500.3 2006.2 1502.3 2006.3 1504.3 2006.4 1506.3 2006.5 1508.3 2006.6 1510.3 2006.7 1512.3 2006.8 1514.3 2006.9 1516.3 2007.0 1518.3 2007.0 1520.3 2007.1 1522.3 2007.2 1524.3 2007.3 1526.3 2007.4 1528.3 2007.5 1530.3 2007.6 1532.3 2007.7 1534.3 2007.8 1536.3 2007.9 1538.3 2008.0 1540.3 2008.1 1542.3 2008.2 1544.3 2008.2 1546.3 2008.3 1548.3 2008.4 1550.3 2008.5 1552.3 2008.6 1554.3 2008.7 1556.3 2008.8 1558.3 2008.9 1560.3 2009.0 1562.3 2009.0 1564.3 2009.1 1566.3 2009.2 1568.3 2009.3 1570.3 2009.4 1572.3 2009.5 1574.3 2009.6 1576.3 2009.6 1578.3 2009.7 1580.3 2009.8 1582.3 2009.9 1584.3 2010.0 1586.3 2010.0 1588.3 2010.1 1590.3 2010.2 1592.3 2010.3 1594.3 2010.4 1596.3 2010.5 1598.3 2010.5 1600.3 2010.6 1602.3 2010.7 1604.3 2010.8 1606.3 2010.9 1608.3 2010.9 1610.3 2011.0 1612.3 2011.1 1614.3 2011.2 1616.3 2011.2 1618.3 2011.3 1620.3 2011.4 1622.3 2011.5 1624.3 2011.6 1626.3 2011.6 1628.3 2011.7 1630.3 2011.8 1632.3 2011.9 1634.3 2011.9 1636.3 2012.0 1638.3 2012.1 1640.3 2012.2 1642.3 2012.2 1644.3 2012.3 1646.3 2012.4 1648.3 2012.4 1650.3 2012.5 1652.3 2012.6 1654.3 2012.7 1656.3 2012.7 1658.3 2012.8 1660.3 2012.9 1662.3 2012.9 1664.3 2013.0 1666.3 2013.1 1668.3 2013.2 1670.3 2013.2 1672.3 2013.3 1674.3 2013.4 1676.4 2013.4 1678.4 2013.5 1680.4 2013.6 1682.4 2013.6 1684.4 2013.7 1686.4 2013.8 1688.4 2013.8 1690.4 2013.9 1692.4 2014.0 1694.4 2014.0 1696.4 2014.1 1698.4 2014.2 1700.4 2014.2 1702.4 2014.3 1704.4 2014.4 1706.4 2014.4 1708.4 2014.5 1710.4 2014.6 1712.4 2014.6 1714.4 2014.7 1716.4 2014.7 1718.4 2014.8 1720.4 2014.9 1722.4 2014.9 1724.4 2015.0 1726.4 2015.1 1728.4 2015.1 1730.4 2015.2 1732.4 2015.2 1734.4 2015.3 1736.4 2015.4 1738.4 2015.4 1740.4 2015.5 1742.4 2015.6 1744.4 2015.6 1746.4 2015.7 1748.4 2015.7 1750.4 2015.8 1752.5 2015.8 1754.5 2015.9 1756.5 2016.0 1758.5 2016.0 1760.5 2016.1 1762.5 2016.1 1764.5 2016.2 1766.5 2016.3 1768.5 2016.3 1770.5 2016.4 1772.5 2016.4 1774.5 2016.5 1776.5 2016.5 1778.5 2016.6 1780.5 2016.7 1782.5 2016.7 1784.5 2016.8 1786.5 2016.8 1788.5 2016.9 1790.5 2016.9 1792.5 2017.0 1794.5 2017.0 1796.5 2017.1 1798.5 2017.2 1800.5 2017.2 1802.5 2017.3 1804.5 2017.3 1806.5 2017.4 1808.5 2017.4 1810.5 2017.5 1812.5 2017.5 1814.5 2017.6 1816.5 2017.6 1818.6 2017.7 1820.6 2017.7 1822.6 2017.8 1824.6 2017.8 1826.6 2017.9 1828.6 2017.9 1830.6 2018.0 1832.6 2018.0 1834.6 2018.1 1836.6 2018.2 1838.6 2018.2 1840.6 2018.3 1842.6 2018.3 1844.6 2018.4 1846.6 2018.4 1848.6 2018.5 1850.6 2018.5 1852.6 2018.6 1854.6 2018.6 1856.6 2018.7 1858.6 2018.7 1860.6 2018.8 1862.6 2018.8 1864.6 2018.8 1866.6 2018.9 1868.6 2018.9 1870.6 2019.0 1872.6 2019.0 1874.6 2019.1 1876.6 2019.1 1878.6 2019.2 1880.6 2019.2 1882.7 2019.3 1884.7 2019.3 1886.7 2019.4 1888.7 2019.4 1890.7 2019.5 1892.7 2019.5 1894.7 2019.6 1896.7 2019.6 1898.7 2019.7 1900.7 2019.7 1902.7 2019.8 1904.7 2019.8 1906.7 2019.8 1908.7 2019.9 1910.7 2019.9 1912.7 2020.0 1914.7 2020.0 1916.7 2020.1 1918.7 2020.1 1920.7 2020.2 1922.7 2020.2 1924.7 2020.3 1926.7 2020.3 1928.7 2020.3 1930.7 2020.4 1932.7 2020.4 1934.7 2020.5 1936.7 2020.5 1938.7 2020.6 1940.7 2020.6 1942.7 2020.7 1944.8 2020.7 1946.8 2020.7 1948.8 2020.8 1950.8 2020.8 1952.8 2020.9 1954.8 2020.9 1956.8 2021.0 1958.8 2021.0 1960.8 2021.1 1962.8 2021.1 1964.8 2021.1 1966.8 2021.2 1968.8 2021.2 1970.8 2021.3 1972.8 2021.3 1974.8 2021.4 1976.8 2021.4 1978.8 2021.4 1980.8 2021.5 1982.8 2021.5 1984.8 2021.6 1986.8 2021.6 1988.8 2021.7 1990.8 2021.7 1992.8 2021.7 1994.8 2021.8 1996.8 2021.8 1998.8 2021.9 2000.8 2021.9 2002.8 2022.0 2004.8 2022.0 2006.8 2022.0 2008.8 2022.1 2010.8 2022.1 2012.8 2022.2 2014.9 2022.2 2016.9 2022.3 2018.9 2022.3 2020.9 2022.3 2022.9 2022.4 2024.9 2022.4 2026.9 2022.5 2028.9 2022.5 2030.9 2022.5 2032.9 2022.6 2034.9 2022.6 2036.9 2022.7 2038.9 2022.7 2040.9 2022.8 2042.9 2022.8 2044.9 2022.8 2046.9 2022.9 2048.9 2022.9 2050.9 2023.0 2052.9 2023.0 2054.9 2023.0 2056.9 2023.1 2058.9 2023.1 2060.9 2023.2 2062.9 2023.2 2064.9 2023.3 2066.9 2023.3 2068.9 2023.3 2070.9 2023.4 2072.9 2023.4 2074.9 2023.5 2076.9 2023.5 2078.9 2023.5 2080.9 2023.6 2082.9 2023.6 2084.9 2023.7 2086.9 2023.7 2088.9 2023.8 2090.9 2023.8 2092.9 2023.8 2094.9 2023.9 2096.9 2023.9 2098.9 2024.0 2100.9 2024.0 2102.9 2024.0 2104.9 2024.1 2106.9 2024.1 2109.0 2024.2 2111.0 2024.2 2113.0 2024.3 2115.0 2024.3 2117.0 2024.3 2119.0 2024.4 2121.0 2024.4 2123.0 2024.5 2125.0 2024.5 2127.0 2024.5 2129.0 2024.6 2131.0 2024.6 2133.0 2024.7 2135.0 2024.7 2137.0 2024.8 2139.0 2024.8 2141.0 2024.8 2143.0 2024.9 2145.0 2024.9 2147.0 2025.0 2149.0 2025.0 2151.0 2025.1 2153.0 2025.1 2155.0 2025.1 2157.0 2025.2 2159.0 2025.2 2161.0 2025.3 2163.0 2025.3 2165.0 2025.4 2167.0 2025.4 2169.0 2025.4 2171.0 2025.5 2173.0 2025.5 2175.0 2025.6 2177.0 2025.6 2179.0 2025.7 2181.0 2025.7 2183.0 2025.8 2185.0 2025.8 2187.0 2025.8 2189.0 2025.9 2191.0 2025.9 2193.0 2026.0 2195.0 2026.0 2197.0 2026.1 2199.0 2026.1 2201.0 2026.1 2203.0 2026.2 2205.0 2026.2 2207.0 2026.3 2209.0 2026.3 2211.0 2026.4 2213.0 2026.4 2215.0 2026.5 2217.0 2026.5 2219.0 2026.6 2221.0 2026.6 2223.0 2026.6 2225.0 2026.7 2227.0 2026.7 2229.0 2026.8 2231.0 2026.8 2233.0 2026.9 2235.0 2026.9 2237.0 2027.0 2239.0 2027.0 2241.0 2027.1 2243.0 2027.1 2245.0 2027.2 2247.0 2027.2 2249.0 2027.3 2251.0 2027.3 2253.0 2027.3 2255.0 2027.4 2257.0 2027.4 2259.0 2027.5 2261.0 2027.5 2263.0 2027.6 2265.0 2027.6 2267.0 2027.7 2269.0 2027.7 2271.0 2027.8 2273.0 2027.8 2275.0 2027.9 2277.0 2027.9 2279.0 2028.0 2281.0 2028.0"/><path stroke="#ff00ff" d="M299 2015L299 1590Q300.5 1576 303 1580Q305.5 1590 306 1610L307.0 1640.0L306.9 1642.1 306.9 1644.3 306.8 1646.4 306.7 1648.6 306.7 1650.7 306.6 1652.8 306.6 1654.9 306.5 1657.0 306.5 1659.1 306.5 1661.2 306.4 1663.3 306.4 1665.4 306.4 1667.5 306.3 1669.6 306.3 1671.6 306.3 1673.7 306.3 1675.8 306.3 1677.8 306.3 1679.8 306.3 1681.9 306.3 1683.9 306.3 1686.0 306.3 1688.0 306.3 1690.0 306.3 1692.0 306.3 1694.0 306.3 1696.0 306.3 1698.1 306.3 1700.1 306.4 1702.1 306.4 1704.0 306.4 1706.0 306.4 1708.0 306.5 1710.0 306.5 1712.0 306.5 1714.0 306.6 1715.9 306.6 1717.9 306.7 1719.9 306.7 1721.8 306.8 1723.8 306.8 1725.8 306.9 1727.7 306.9 1729.7 307.0 1731.6 307.0 1733.6 307.1 1735.5 307.1 1737.5 307.2 1739.4 307.3 1741.4 307.3 1743.3 307.4 1745.3 307.5 1747.2 307.6 1749.2 307.6 1751.1 307.7 1753.0 307.8 1755.0 307.9 1756.9 307.9 1758.9 308.0 1760.8 308.1 1762.7 308.2 1764.7 308.3 1766.6 308.4 1768.5 308.4 1770.5 308.5 1772.4 308.6 1774.4 308.7 1776.3 308.8 1778.2 308.9 1780.2 309.0 1782.1 309.1 1784.1 309.2 1786.0 309.3 1788.0 309.4 1789.9 309.5 1791.9 309.6 1793.8 309.7 1795.8 309.8 1797.7 309.9 1799.7 310.0 1801.7 310.1 1803.6 310.2 1805.6 310.3 1807.5 310.4 1809.5 310.5 1811.5 310.6 1813.5 310.7 1815.5 310.8 1817.4 310.9 1819.4 311.0 1821.4 311.1 1823.4 311.2 1825.4 311.3 1827.4 311.4 1829.4 311.5 1831.4 311.6 1833.4 311.7 1835.4 311.8 1837.5 311.9 1839.5 312.0 1841.5 312.1 1843.6 312.2 1845.6 312.3 1847.6 312.4 1849.7 312.5 1851.7 312.6 1853.8 312.7 1855.9 312.8 1857.9 312.9 1860.0 312.9 1862.1 313.0 1864.2 313.1 1866.3 313.2 1868.4 313.3 1870.5 313.4 1872.6 313.5 1874.7 313.6 1876.8 313.7 1879.0 313.8 1881.1 314.0 1883.2 314.1 1885.3 314.3 1887.4 314.5 1889.5 314.7 1891.5 315.0 1893.6 315.3 1895.6 315.7 1897.6 316.1 1899.5 316.5 1901.5 317.0 1903.4 317.6 1905.3 318.2 1907.1 318.8 1908.9 319.6 1910.7 320.4 1912.4 321.2 1914.1 322.2 1915.8 323.2 1917.3 324.3 1918.9 325.5 1920.4 326.8 1921.8 328.1 1923.1 329.6 1924.4 331.2 1925.7 332.8 1926.8 334.6 1927.9 336.3 1928.8 338.2 1929.6 340.0 1930.2 341.8 1930.7 343.7 1930.9 345.4 1930.9 347.2 1930.7 348.9 1930.3 350.6 1929.7 352.3 1928.9 353.9 1927.9 355.4 1926.8 356.9 1925.6 358.4 1924.2 359.8 1922.7 361.1 1921.1 362.4 1919.4 363.6 1917.7 364.8 1915.9 365.9 1914.0 366.9 1912.1 367.9 1910.2 368.8 1908.2 369.6 1906.3 370.4 1904.3 371.1 1902.4 371.7 1900.4 372.3 1898.5 372.9 1896.5 373.4 1894.5 373.9 1892.6 374.3 1890.6 374.7 1888.6 375.1 1886.7 375.4 1884.7 375.8 1882.7 376.1 1880.7 376.4 1878.7 376.7 1876.8 377.0 1874.8 377.3 1872.8 377.6 1870.9 377.9 1868.9 378.2 1866.9 378.5 1864.9 378.8 1863.0 379.1 1861.0 379.5 1859.1 379.8 1857.1 380.1 1855.1 380.5 1853.2 380.8 1851.2 381.2 1849.2 381.5 1847.3 381.9 1845.3 382.2 1843.3 382.5 1841.4 382.9 1839.4 383.2 1837.4 383.6 1835.5 383.9 1833.5 384.3 1831.5 384.6 1829.5 384.9 1827.6 385.3 1825.6 385.6 1823.6 385.9 1821.6 386.2 1819.6 386.6 1817.6 386.9 1815.6 387.2 1813.6 387.5 1811.6 387.8 1809.6 388.1 1807.6 388.4 1805.6 388.7 1803.6 388.9 1801.6 389.2 1799.6 389.5 1797.6 389.8 1795.6 390.0 1793.6 390.3 1791.6 390.5 1789.6 390.8 1787.6 391.0 1785.6 391.3 1783.6 391.5 1781.6 391.8 1779.6 392.0 1777.6 392.2 1775.6 392.4 1773.7 392.7 1771.7 392.9 1769.7 393.1 1767.7 393.3 1765.8 393.5 1763.8 393.7 1761.9 393.9 1759.9 394.1 1758.0 394.3 1756.1 394.4 1754.2 394.6 1752.2 394.8 1750.3 394.9 1748.4 395.1 1746.5 395.3 1744.6 395.4 1742.7 395.6 1740.8 395.8 1738.9 396.0 1737.0 396.2 1735.1 396.3 1733.2 396.5 1731.3 396.7 1729.4 397.0 1727.4 397.2 1725.5 397.4 1723.5 397.7 1721.5 397.9 1719.5 398.2 1717.5 398.5 1715.5 398.8 1713.5 399.1 1711.4 399.5 1709.3 399.9 1707.2 400.2 1705.1 400.6 1703.0 401.1 1700.8 401.5 1698.6 402.0 1696.3 402.5 1694.1 403.0 1691.8 403.6 1689.5 404.2 1687.2 404.9 1685.0 405.5 1682.8 406.2 1680.7 407.0 1678.6 407.8 1676.6 408.7 1674.8 409.6 1673.1 410.6 1671.5 411.7 1670.1 412.8 1668.9 413.9 1667.8 415.2 1667.0 416.5 1666.4 417.9 1666.1 419.4 1666.0 420.9 1666.2 422.6 1666.6 424.2 1667.3 425.9 1668.1 427.7 1669.0 429.4 1670.1 431.1 1671.2 432.7 1672.3 434.3 1673.5 435.9 1674.8 437.5 1676.0 439.0 1677.3 440.5 1678.6 441.9 1680.0 443.3 1681.3 444.7 1682.7 446.1 1684.2 447.4 1685.6 448.8 1687.1 450.0 1688.7 451.3 1690.2 452.5 1691.8 453.7 1693.4 454.9 1695.0 456.0 1696.6 457.2 1698.3 458.3 1700.0 459.4 1701.7 460.4 1703.4 461.4 1705.1 462.5 1706.9 463.5 1708.6 464.4 1710.4 465.4 1712.2 466.3 1714.0 467.2 1715.9 468.1 1717.7 469.0 1719.6 469.9 1721.4 470.7 1723.3 471.6 1725.2 472.4 1727.1 473.2 1729.0 474.0 1730.9 474.8 1732.8 475.6 1734.7 476.3 1736.6 477.1 1738.6 477.8 1740.5 478.5 1742.4 479.3 1744.3 480.0 1746.3 480.7 1748.2 481.4 1750.1 482.1 1752.0 482.7 1754.0 483.4 1755.9 484.1 1757.8 484.7 1759.7 485.4 1761.6 486.1 1763.5 486.7 1765.4 487.4 1767.3 488.0 1769.2 488.7 1771.1 489.3 1773.0 489.9 1774.9 490.6 1776.8 491.2 1778.6 491.8 1780.5 492.5 1782.4 493.1 1784.3 493.7 1786.1 494.4 1788.0 495.0 1789.9 495.6 1791.8 496.2 1793.6 496.9 1795.5 497.5 1797.4 498.1 1799.2 498.8 1801.1 499.4 1802.9 500.1 1804.8 500.7 1806.6 501.4 1808.5 502.0 1810.3 502.7 1812.2 503.4 1814.0 504.0 1815.9 504.7 1817.7 505.4 1819.6 506.1 1821.4 506.8 1823.3 507.5 1825.1 508.2 1827.0 508.9 1828.8 509.6 1830.6 510.4 1832.5 511.1 1834.3 511.9 1836.1 512.6 1838.0 513.4 1839.8 514.2 1841.7 514.9 1843.5 515.7 1845.3 516.6 1847.2 517.4 1849.0 518.2 1850.8 519.1 1852.7 519.9 1854.5 520.8 1856.3 521.7 1858.2 522.6 1860.0 523.5 1861.8 524.4 1863.6 525.3 1865.4 526.3 1867.2 527.2 1869.0 528.2 1870.8 529.2 1872.6 530.2 1874.4 531.2 1876.2 532.2 1878.0 533.2 1879.7 534.3 1881.5 535.3 1883.2 536.4 1885.0 537.5 1886.7 538.6 1888.4 539.7 1890.1 540.9 1891.8 542.0 1893.5 543.2 1895.1 544.3 1896.8 545.5 1898.4 546.7 1900.0 548.0 1901.7 549.2 1903.2 550.4 1904.8 551.7 1906.4 553.0 1907.9 554.3 1909.5 555.6 1911.0 556.9 1912.5 558.2 1914.0 559.6 1915.4 561.0 1916.8 562.4 1918.3 563.8 1919.7 565.2 1921.0 566.6 1922.4 568.1 1923.7 569.6 1925.1 571.0 1926.4 572.5 1927.6 574.0 1928.9 575.6 1930.1 577.1 1931.4 578.7 1932.6 580.2 1933.7 581.8 1934.9 583.4 1936.1 585.0 1937.2 586.6 1938.3 588.3 1939.4 589.9 1940.5 591.6 1941.6 593.2 1942.6 594.9 1943.6 596.6 1944.6 598.3 1945.6 600.0 1946.6 601.7 1947.6 603.5 1948.5 605.2 1949.5 607.0 1950.4 608.7 1951.3 610.5 1952.2 612.3 1953.1 614.1 1953.9 615.9 1954.8 617.7 1955.6 619.5 1956.4 621.3 1957.2 623.2 1958.0 625.0 1958.8 626.9 1959.6 628.7 1960.3 630.6 1961.1 632.4 1961.8 634.3 1962.5 636.2 1963.2 638.1 1963.9 640.0 1964.6 641.9 1965.3 643.8 1965.9 645.7 1966.6 647.6 1967.2 649.5 1967.8 651.4 1968.4 653.4 1969.0 655.3 1969.6 657.2 1970.2 659.2 1970.8 661.1 1971.4 663.1 1971.9 665.0 1972.5 667.0 1973.0 668.9 1973.5 670.9 1974.0 672.8 1974.6 674.8 1975.1 676.7 1975.5 678.7 1976.0 680.7 1976.5 682.6 1977.0 684.6 1977.5 686.5 1977.9 688.5 1978.4 690.5 1978.8 692.4 1979.2 694.4 1979.7 696.4 1980.1 698.3 1980.5 700.3 1980.9 702.3 1981.3 704.2 1981.7 706.2 1982.1 708.2 1982.5 710.2 1982.8 712.1 1983.2 714.1 1983.6 716.1 1983.9 718.1 1984.3 720.0 1984.6 722.0 1985.0 724.0 1985.3 726.0 1985.6 727.9 1985.9 729.9 1986.2 731.9 1986.5 733.9 1986.8 735.8 1987.1 737.8 1987.4 739.8 1987.7 741.8 1988.0 743.8 1988.3 745.8 1988.5 747.7 1988.8 749.7 1989.1 751.7 1989.3 753.7 1989.6 755.7 1989.8 757.7 1990.1 759.6 1990.3 761.6 1990.5 763.6 1990.7 765.6 1991.0 767.6 1991.2 769.6 1991.4 771.6 1991.6 773.6 1991.8 775.5 1992.0 777.5 1992.2 779.5 1992.4 781.5 1992.6 783.5 1992.8 785.5 1993.0 787.5 1993.1 789.5 1993.3 791.5 1993.5 793.5 1993.6 795.5 1993.8 797.5 1994.0 799.4 1994.1 801.4 1994.3 803.4 1994.4 805.4 1994.6 807.4 1994.7 809.4 1994.9 811.4 1995.0 813.4 1995.1 815.4 1995.3 817.4 1995.4 819.4 1995.5 821.4 1995.6 823.4 1995.8 825.4 1995.9 827.4 1996.0 829.4 1996.1 831.4 1996.2 833.4 1996.3 835.4 1996.5 837.4 1996.6 839.4 1996.7 841.4 1996.8 843.4 1996.9 845.4 1997.0 847.4 1997.1 849.4 1997.2 851.4 1997.3 853.4 1997.4 855.4 1997.5 857.4 1997.5 859.4 1997.6 861.4 1997.7 863.4 1997.8 865.4 1997.9 867.4 1998.0 869.4 1998.1 871.4 1998.2 873.4 1998.2 875.4 1998.3 877.4 1998.4 879.4 1998.5 881.4 1998.6 883.4 1998.7 885.4 1998.7 887.4 1998.8 889.4 1998.9 891.4 1999.0 893.4 1999.1 895.4 1999.2 897.4 1999.2 899.4 1999.3 901.4 1999.4 903.4 1999.5 905.4 1999.6 907.4 1999.6 909.4 1999.7 911.4 1999.8 913.4 1999.9 915.4 2000.0 917.4 2000.0 919.4 2000.1 921.4 2000.2 923.4 2000.3 925.4 2000.3 927.4 2000.4 929.4 2000.5 931.4 2000.6 933.4 2000.6 935.4 2000.7 937.4 2000.8 939.4 2000.9 941.4 2000.9 943.4 2001.0 945.4 2001.1 947.4 2001.2 949.4 2001.2 951.4 2001.3 953.4 2001.4 955.4 2001.5 957.4 2001.5 959.4 2001.6 961.4 2001.7 963.4 2001.7 965.4 2001.8 967.4 2001.9 969.4 2002.0 971.4 2002.0 973.4 2002.1 975.4 2002.2 977.4 2002.2 979.4 2002.3 981.4 2002.4 983.4 2002.4 985.4 2002.5 987.4 2002.6 989.4 2002.6 991.4 2002.7 993.4 2002.8 995.4 2002.8 997.4 2002.9 999.4 2003.0 1001.4 2003.0 1003.4 2003.1 1005.4 2003.2 1007.4 2003.2 1009.4 2003.3 1011.4 2003.4 1013.4 2003.4 1015.4 2003.5 1017.4 2003.6 1019.4 2003.6 1021.4 2003.7 1023.4 2003.7 1025.4 2003.8 1027.4 2003.9 1029.4 2003.9 1031.4 2004.0 1033.4 2004.1 1035.4 2004.1 1037.5 2004.2 1039.5 2004.2 1041.5 2004.3 1043.5 2004.4 1045.5 2004.4 1047.5 2004.5 1049.5 2004.5 1051.5 2004.6 1053.5 2004.7 1055.5 2004.7 1057.5 2004.8 1059.5 2004.8 1061.5 2004.9 1063.5 2004.9 1065.5 2005.0 1067.5 2005.1 1069.5 2005.1 1071.5 2005.2 1073.5 2005.2 1075.5 2005.3 1077.5 2005.3 1079.5 2005.4 1081.5 2005.5 1083.5 2005.5 1085.5 2005.6 1087.5 2005.6 1089.5 2005.7 1091.5 2005.7 1093.5 2005.8 1095.5 2005.8 1097.5 2005.9 1099.5 2005.9 1101.5 2006.0 1103.5 2006.0 1105.5 2006.1 1107.5 2006.1 1109.5 2006.2 1111.5 2006.3 1113.5 2006.3 1115.5 2006.4 1117.5 2006.4 1119.5 2006.5 1121.5 2006.5 1123.5 2006.6 1125.5 2006.6 1127.5 2006.7 1129.5 2006.7 1131.5 2006.8 1133.5 2006.8 1135.5 2006.9 1137.5 2006.9 1139.5 2007.0 1141.5 2007.0 1143.5 2007.0 1145.5 2007.1 1147.5 2007.1 1149.5 2007.2 1151.5 2007.2 1153.5 2007.3 1155.5 2007.3 1157.5 2007.4 1159.6 2007.4 1161.6 2007.5 1163.6 2007.5 1165.6 2007.6 1167.6 2007.6 1169.6 2007.7 1171.6 2007.7 1173.6 2007.7 1175.6 2007.8 1177.6 2007.8 1179.6 2007.9 1181.6 2007.9 1183.6 2008.0 1185.6 2008.0 1187.6 2008.1 1189.6 2008.1 1191.6 2008.1 1193.6 2008.2 1195.6 2008.2 1197.6 2008.3 1199.6 2008.3 1201.6 2008.4 1203.6 2008.4 1205.6 2008.4 1207.6 2008.5 1209.6 2008.5 1211.6 2008.6 1213.6 2008.6 1215.6 2008.6 1217.6 2008.7 1219.6 2008.7 1221.6 2008.8 1223.6 2008.8 1225.6 2008.8 1227.6 2008.9 1229.6 2008.9 1231.6 2009.0 1233.6 2009.0 1235.6 2009.0 1237.6 2009.1 1239.6 2009.1 1241.6 2009.2 1243.6 2009.2 1245.6 2009.2 1247.6 2009.3 1249.6 2009.3 1251.6 2009.3 1253.7 2009.4 1255.7 2009.4 1257.7 2009.4 1259.7 2009.5 1261.7 2009.5 1263.7 2009.6 1265.7 2009.6 1267.7 2009.6 1269.7 2009.7 1271.7 2009.7 1273.7 2009.7 1275.7 2009.8 1277.7 2009.8 1279.7 2009.8 1281.7 2009.9 1283.7 2009.9 1285.7 2009.9 1287.7 2010.0 1289.7 2010.0 1291.7 2010.0 1293.7 2010.1 1295.7 2010.1 1297.7 2010.1 1299.7 2010.2 1301.7 2010.2 1303.7 2010.2 1305.7 2010.3 1307.7 2010.3 1309.7 2010.3 1311.7 2010.4 1313.7 2010.4 1315.7 2010.4 1317.7 2010.5 1319.7 2010.5 1321.7 2010.5 1323.7 2010.6 1325.7 2010.6 1327.7 2010.6 1329.7 2010.7 1331.7 2010.7 1333.7 2010.7 1335.7 2010.7 1337.8 2010.8 1339.8 2010.8 1341.8 2010.8 1343.8 2010.9 1345.8 2010.9 1347.8 2010.9 1349.8 2011.0 1351.8 2011.0 1353.8 2011.0 1355.8 2011.0 1357.8 2011.1 1359.8 2011.1 1361.8 2011.1 1363.8 2011.2 1365.8 2011.2 1367.8 2011.2 1369.8 2011.2 1371.8 2011.3 1373.8 2011.3 1375.8 2011.3 1377.8 2011.3 1379.8 2011.4 1381.8 2011.4 1383.8 2011.4 1385.8 2011.5 1387.8 2011.5 1389.8 2011.5 1391.8 2011.5 1393.8 2011.6 1395.8 2011.6 1397.8 2011.6 1399.8 2011.6 1401.8 2011.7 1403.8 2011.7 1405.8 2011.7 1407.8 2011.7 1409.8 2011.8 1411.8 2011.8 1413.9 2011.8 1415.9 2011.8 1417.9 2011.9 1419.9 2011.9 1421.9 2011.9 1423.9 2011.9 1425.9 2012.0 1427.9 2012.0 1429.9 2012.0 1431.9 2012.0 1433.9 2012.1 1435.9 2012.1 1437.9 2012.1 1439.9 2012.1 1441.9 2012.1 1443.9 2012.2 1445.9 2012.2 1447.9 2012.2 1449.9 2012.2 1451.9 2012.3 1453.9 2012.3 1455.9 2012.3 1457.9 2012.3 1459.9 2012.4 1461.9 2012.4 1463.9 2012.4 1465.9 2012.4 1467.9 2012.4 1469.9 2012.5 1471.9 2012.5 1473.9 2012.5 1475.9 2012.5 1477.9 2012.5 1479.9 2012.6 1481.9 2012.6 1483.9 2012.6 1485.9 2012.6 1488.0 2012.7 1490.0 2012.7 1492.0 2012.7 1494.0 2012.7 1496.0 2012.7 1498.0 2012.8 1500.0 2012.8 1502.0 2012.8 1504.0 2012.8 1506.0 2012.8 1508.0 2012.9 1510.0 2012.9 1512.0 2012.9 1514.0 2012.9 1516.0 2012.9 1518.0 2013.0 1520.0 2013.0 1522.0 2013.0 1524.0 2013.0 1526.0 2013.0 1528.0 2013.1 1530.0 2013.1 1532.0 2013.1 1534.0 2013.1 1536.0 2013.1 1538.0 2013.1 1540.0 2013.2 1542.0 2013.2 1544.0 2013.2 1546.0 2013.2 1548.0 2013.2 1550.0 2013.3 1552.0 2013.3 1554.0 2013.3 1556.1 2013.3 1558.1 2013.3 1560.1 2013.3 1562.1 2013.4 1564.1 2013.4 1566.1 2013.4 1568.1 2013.4 1570.1 2013.4 1572.1 2013.5 1574.1 2013.5 1576.1 2013.5 1578.1 2013.5 1580.1 2013.5 1582.1 2013.5 1584.1 2013.6 1586.1 2013.6 1588.1 2013.6 1590.1 2013.6 1592.1 2013.6 1594.1 2013.6 1596.1 2013.7 1598.1 2013.7 1600.1 2013.7 1602.1 2013.7 1604.1 2013.7 1606.1 2013.7 1608.1 2013.8 1610.1 2013.8 1612.1 2013.8 1614.1 2013.8 1616.1 2013.8 1618.1 2013.8 1620.1 2013.9 1622.1 2013.9 1624.2 2013.9 1626.2 2013.9 1628.2 2013.9 1630.2 2013.9 1632.2 2013.9 1634.2 2014.0 1636.2 2014.0 1638.2 2014.0 1640.2 2014.0 1642.2 2014.0 1644.2 2014.0 1646.2 2014.1 1648.2 2014.1 1650.2 2014.1 1652.2 2014.1 1654.2 2014.1 1656.2 2014.1 1658.2 2014.2 1660.2 2014.2 1662.2 2014.2 1664.2 2014.2 1666.2 2014.2 1668.2 2014.2 1670.2 2014.2 1672.2 2014.3 1674.2 2014.3 1676.2 2014.3 1678.2 2014.3 1680.2 2014.3 1682.2 2014.3 1684.2 2014.3 1686.2 2014.4 1688.2 2014.4 1690.2 2014.4 1692.3 2014.4 1694.3 2014.4 1696.3 2014.4 1698.3 2014.5 1700.3 2014.5 1702.3 2014.5 1704.3 2014.5 1706.3 2014.5 1708.3 2014.5 1710.3 2014.5 1712.3 2014.6 1714.3 2014.6 1716.3 2014.6 1718.3 2014.6 1720.3 2014.6 1722.3 2014.6 1724.3 2014.6 1726.3 2014.7 1728.3 2014.7 1730.3 2014.7 1732.3 2014.7 1734.3 2014.7 1736.3 2014.7 1738.3 2014.7 1740.3 2014.8 1742.3 2014.8 1744.3 2014.8 1746.3 2014.8 1748.3 2014.8 1750.3 2014.8 1752.3 2014.8 1754.3 2014.9 1756.3 2014.9 1758.3 2014.9 1760.4 2014.9 1762.4 2014.9 1764.4 2014.9 1766.4 2015.0 1768.4 2015.0 1770.4 2015.0 1772.4 2015.0 1774.4 2015.0 1776.4 2015.0 1778.4 2015.0 1780.4 2015.1 1782.4 2015.1 1784.4 2015.1 1786.4 2015.1 1788.4 2015.1 1790.4 2015.1 1792.4 2015.1 1794.4 2015.2 1796.4 2015.2 1798.4 2015.2 1800.4 2015.2 1802.4 2015.2 1804.4 2015.2 1806.4 2015.2 1808.4 2015.3 1810.4 2015.3 1812.4 2015.3 1814.4 2015.3 1816.4 2015.3 1818.4 2015.3 1820.4 2015.4 1822.4 2015.4 1824.4 2015.4 1826.4 2015.4 1828.5 2015.4 1830.5 2015.4 1832.5 2015.4 1834.5 2015.5 1836.5 2015.5 1838.5 2015.5 1840.5 2015.5 1842.5 2015.5 1844.5 2015.5 1846.5 2015.6 1848.5 2015.6 1850.5 2015.6 1852.5 2015.6 1854.5 2015.6 1856.5 2015.6 1858.5 2015.6 1860.5 2015.7 1862.5 2015.7 1864.5 2015.7 1866.5 2015.7 1868.5 2015.7 1870.5 2015.7 1872.5 2015.8 1874.5 2015.8 1876.5 2015.8 1878.5 2015.8 1880.5 2015.8 1882.5 2015.8 1884.5 2015.9 1886.5 2015.9 1888.5 2015.9 1890.5 2015.9 1892.5 2015.9 1894.5 2015.9 1896.5 2016.0 1898.5 2016.0 1900.6 2016.0 1902.6 2016.0 1904.6 2016.0 1906.6 2016.0 1908.6 2016.1 1910.6 2016.1 1912.6 2016.1 1914.6 2016.1 1916.6 2016.1 1918.6 2016.1 1920.6 2016.2 1922.6 2016.2 1924.6 2016.2 1926.6 2016.2 1928.6 2016.2 1930.6 2016.2 1932.6 2016.3 1934.6 2016.3 1936.6 2016.3 1938.6 2016.3 1940.6 2016.3 1942.6 2016.4 1944.6 2016.4 1946.6 2016.4 1948.6 2016.4 1950.6 2016.4 1952.6 2016.4 1954.6 2016.5 1956.6 2016.5 1958.6 2016.5 1960.6 2016.5 1962.6 2016.5 1964.6 2016.6 1966.6 2016.6 1968.6 2016.6 1970.6 2016.6 1972.6 2016.6 1974.7 2016.7 1976.7 2016.7 1978.7 2016.7 1980.7 2016.7 1982.7 2016.7 1984.7 2016.8 1986.7 2016.8 1988.7 2016.8 1990.7 2016.8 1992.7 2016.8 1994.7 2016.9 1996.7 2016.9 1998.7 2016.9 2000.7 2016.9 2002.7 2016.9 2004.7 2017.0 2006.7 2017.0 2008.7 2017.0 2010.7 2017.0 2012.7 2017.0 2014.7 2017.1 2016.7 2017.1 2018.7 2017.1 2020.7 2017.1 2022.7 2017.1 2024.7 2017.2 2026.7 2017.2 2028.7 2017.2 2030.7 2017.2 2032.7 2017.3 2034.7 2017.3 2036.7 2017.3 2038.7 2017.3 2040.7 2017.3 2042.7 2017.4 2044.7 2017.4 2046.7 2017.4 2048.7 2017.4 2050.7 2017.5 2052.7 2017.5 2054.8 2017.5 2056.8 2017.5 2058.8 2017.6 2060.8 2017.6 2062.8 2017.6 2064.8 2017.6 2066.8 2017.6 2068.8 2017.7 2070.8 2017.7 2072.8 2017.7 2074.8 2017.7 2076.8 2017.8 2078.8 2017.8 2080.8 2017.8 2082.8 2017.8 2084.8 2017.9 2086.8 2017.9 2088.8 2017.9 2090.8 2017.9 2092.8 2018.0 2094.8 2018.0 2096.8 2018.0 2098.8 2018.0 2100.8 2018.1 2102.8 2018.1 2104.8 2018.1 2106.8 2018.2 2108.8 2018.2 2110.8 2018.2 2112.8 2018.2 2114.8 2018.3 2116.8 2018.3 2118.8 2018.3 2120.8 2018.3 2122.8 2018.4 2124.8 2018.4 2126.8 2018.4 2128.8 2018.5 2130.8 2018.5 2132.8 2018.5 2134.8 2018.5 2136.8 2018.6 2138.8 2018.6 2140.8 2018.6 2142.9 2018.7 2144.9 2018.7 2146.9 2018.7 2148.9 2018.7 2150.9 2018.8 2152.9 2018.8 2154.9 2018.8 2156.9 2018.9 2158.9 2018.9 2160.9 2018.9 2162.9 2018.9 2164.9 2019.0 2166.9 2019.0 2168.9 2019.0 2170.9 2019.1 2172.9 2019.1 2174.9 2019.1 2176.9 2019.2 2178.9 2019.2 2180.9 2019.2 2182.9 2019.3 2184.9 2019.3 2186.9 2019.3 2188.9 2019.4 2190.9 2019.4 2192.9 2019.4 2194.9 2019.5 2196.9 2019.5 2198.9 2019.5 2200.9 2019.6 2202.9 2019.6 2204.9 2019.6 2206.9 2019.7 2208.9 2019.7 2210.9 2019.7 2212.9 2019.8 2214.9 2019.8 2216.9 2019.8 2218.9 2019.9 2220.9 2019.9 2222.9 2019.9 2224.9 2020.0 2226.9 2020.0 2228.9 2020.0 2230.9 2020.1 2232.9 2020.1 2234.9 2020.2 2236.9 2020.2 2238.9 2020.2 2240.9 2020.3 2242.9 2020.3 2244.9 2020.3 2246.9 2020.4 2249.0 2020.4 2251.0 2020.5 2253.0 2020.5 2255.0 2020.5 2257.0 2020.6 2259.0 2020.6 2261.0 2020.6 2263.0 2020.7 2265.0 2020.7 2267.0 2020.8 2269.0 2020.8 2271.0 2020.8 2273.0 2020.9 2275.0 2020.9 2277.0 2021.0 2279.0 2021.0 2281.0 2021.0"/><path stroke="#0000ff" d="M298.5 1447L299 1300L299.5 1150L309.8 1150L310.2 1170.0L310.2 1172.0 310.2 1174.0 310.2 1176.0 310.3 1178.0 310.3 1180.0 310.3 1182.0 310.3 1184.0 310.3 1186.0 310.3 1188.0 310.3 1190.0 310.4 1192.0 310.4 1194.0 310.4 1196.0 310.4 1198.0 310.4 1200.0 310.4 1202.0 310.4 1204.0 310.5 1206.0 310.5 1208.0 310.5 1210.0 310.5 1212.0 310.5 1214.0 310.5 1216.0 310.5 1218.1 310.5 1220.1 310.6 1222.1 310.6 1224.1 310.6 1226.1 310.6 1228.1 310.6 1230.1 310.6 1232.1 310.6 1234.1 310.6 1236.1 310.7 1238.1 310.7 1240.1 310.7 1242.1 310.7 1244.1 310.7 1246.1 310.7 1248.1 310.7 1250.1 310.7 1252.1 310.8 1254.1 310.8 1256.1 310.8 1258.1 310.8 1260.1 310.8 1262.1 310.8 1264.1 310.8 1266.1 310.8 1268.1 310.8 1270.1 310.9 1272.1 310.9 1274.1 310.9 1276.1 310.9 1278.1 310.9 1280.1 310.9 1282.1 310.9 1284.1 310.9 1286.1 311.0 1288.1 311.0 1290.1 311.0 1292.1 311.0 1294.1 311.0 1296.1 311.0 1298.1 311.0 1300.1 311.0 1302.1 311.0 1304.1 311.1 1306.1 311.1 1308.1 311.1 1310.2 311.1 1312.2 311.1 1314.2 311.1 1316.2 311.1 1318.2 311.1 1320.2 311.2 1322.2 311.2 1324.2 311.2 1326.2 311.2 1328.2 311.2 1330.2 311.2 1332.2 311.2 1334.2 311.2 1336.2 311.3 1338.2 311.3 1340.2 311.3 1342.2 311.3 1344.2 311.3 1346.2 311.3 1348.2 311.3 1350.2 311.3 1352.2 311.4 1354.2 311.4 1356.2 311.4 1358.2 311.4 1360.2 311.4 1362.2 311.4 1364.2 311.4 1366.2 311.5 1368.2 311.5 1370.2 311.5 1372.2 311.5 1374.2 311.5 1376.2 311.5 1378.2 311.5 1380.2 311.6 1382.2 311.6 1384.2 311.6 1386.2 311.6 1388.2 311.6 1390.2 311.6 1392.2 311.7 1394.2 311.7 1396.2 311.7 1398.2 311.7 1400.2 311.7 1402.2 311.7 1404.2 311.8 1406.2 311.8 1408.2 311.8 1410.2 311.8 1412.2 311.8 1414.2 311.9 1416.2 311.9 1418.2 311.9 1420.2 311.9 1422.2 311.9 1424.2 311.9 1426.2 312.0 1428.2 312.0 1430.2 312.0 1432.2 312.0 1434.2 312.0 1436.2 312.1 1438.2 312.1 1440.2 312.1 1442.2 312.1 1444.2 312.2 1446.2 312.2 1448.2 312.2 1450.2 312.2 1452.2 312.2 1454.2 312.3 1456.2 312.3 1458.2 312.3 1460.2 312.3 1462.2 312.4 1464.2 312.4 1466.2 312.4 1468.2 312.4 1470.2 312.5 1472.2 312.5 1474.2 312.5 1476.2 312.5 1478.2 312.6 1480.2 312.6 1482.2 312.6 1484.2 312.6 1486.2 312.7 1488.2 312.7 1490.2 312.7 1492.2 312.7 1494.2 312.8 1496.2 312.8 1498.2 312.8 1500.2 312.9 1502.2 312.9 1504.2 312.9 1506.2 312.9 1508.2 313.0 1510.2 313.0 1512.2 313.0 1514.2 313.1 1516.2 313.1 1518.2 313.1 1520.2 313.2 1522.2 313.2 1524.2 313.2 1526.2 313.3 1528.2 313.3 1530.2 313.3 1532.2 313.4 1534.2 313.4 1536.2 313.4 1538.2 313.5 1540.2 313.5 1542.2 313.6 1544.2 313.6 1546.2 313.6 1548.2 313.7 1550.2 313.7 1552.2 313.7 1554.2 313.8 1556.2 313.8 1558.2 313.9 1560.2 313.9 1562.2 313.9 1564.2 314.0 1566.2 314.0 1568.2 314.1 1570.2 314.1 1572.2 314.1 1574.2 314.2 1576.2 314.2 1578.2 314.3 1580.2 314.3 1582.2 314.4 1584.2 314.4 1586.2 314.5 1588.2 314.5 1590.2 314.5 1592.2 314.6 1594.2 314.6 1596.2 314.7 1598.2 314.7 1600.2 314.8 1602.2 314.8 1604.2 314.9 1606.2 314.9 1608.2 315.0 1610.2 315.0 1612.2 315.1 1614.2 315.1 1616.2 315.2 1618.2 315.2 1620.2 315.3 1622.2 315.3 1624.2 315.4 1626.2 315.5 1628.2 315.5 1630.2 315.6 1632.2 315.6 1634.2 315.7 1636.2 315.7 1638.2 315.8 1640.2 315.9 1642.2 315.9 1644.2 316.0 1646.2 316.0 1648.2 316.1 1650.2 316.2 1652.2 316.2 1654.2 316.3 1656.2 316.3 1658.2 316.4 1660.2 316.5 1662.2 316.5 1664.2 316.6 1666.2 316.7 1668.2 316.7 1670.2 316.8 1672.2 316.9 1674.2 316.9 1676.2 317.0 1678.2 317.1 1680.2 317.1 1682.3 317.2 1684.3 317.3 1686.3 317.3 1688.3 317.4 1690.3 317.5 1692.3 317.6 1694.3 317.6 1696.3 317.7 1698.3 317.8 1700.3 317.8 1702.3 317.9 1704.3 318.0 1706.3 318.1 1708.3 318.2 1710.3 318.2 1712.3 318.3 1714.3 318.4 1716.3 318.5 1718.3 318.5 1720.3 318.6 1722.3 318.7 1724.3 318.8 1726.3 318.9 1728.3 319.0 1730.3 319.0 1732.3 319.1 1734.3 319.2 1736.3 319.3 1738.3 319.4 1740.3 319.5 1742.3 319.6 1744.3 319.6 1746.3 319.7 1748.3 319.8 1750.3 319.9 1752.3 320.0 1754.3 320.1 1756.3 320.2 1758.3 320.3 1760.3 320.4 1762.3 320.5 1764.3 320.6 1766.3 320.7 1768.3 320.8 1770.3 320.9 1772.3 321.0 1774.3 321.1 1776.3 321.2 1778.3 321.3 1780.3 321.4 1782.3 321.5 1784.3 321.6 1786.3 321.7 1788.3 321.8 1790.3 321.9 1792.3 322.0 1794.3 322.1 1796.3 322.2 1798.3 322.3 1800.3 322.4 1802.3 322.5 1804.3 322.6 1806.3 322.8 1808.3 322.9 1810.3 323.0 1812.3 323.1 1814.3 323.3 1816.3 323.4 1818.3 323.5 1820.3 323.7 1822.3 323.8 1824.3 324.0 1826.3 324.1 1828.3 324.3 1830.3 324.5 1832.3 324.6 1834.3 324.8 1836.3 325.0 1838.3 325.2 1840.3 325.4 1842.3 325.6 1844.3 325.8 1846.3 326.0 1848.3 326.3 1850.3 326.5 1852.3 326.7 1854.2 327.0 1856.2 327.2 1858.2 327.5 1860.2 327.8 1862.2 328.1 1864.2 328.4 1866.1 328.7 1868.1 329.0 1870.1 329.3 1872.1 329.6 1874.1 330.0 1876.0 330.3 1878.0 330.7 1880.0 331.1 1881.9 331.5 1883.9 331.9 1885.9 332.3 1887.9 332.7 1889.8 333.1 1891.8 333.6 1893.7 334.0 1895.7 334.5 1897.7 335.0 1899.6 335.5 1901.6 336.0 1903.5 336.5 1905.5 337.1 1907.4 337.6 1909.4 338.2 1911.3 338.8 1913.3 339.4 1915.2 340.0 1917.2 340.6 1919.1 341.3 1921.0 342.0 1922.9 342.7 1924.8 343.4 1926.6 344.2 1928.3 345.0 1929.8 345.9 1931.2 346.9 1932.5 348.0 1933.5 349.1 1934.3 350.4 1934.9 351.7 1935.2 353.2 1935.2 354.8 1934.8 356.5 1934.2 358.3 1933.2 360.2 1932.0 362.0 1930.5 363.7 1929.0 365.2 1927.3 366.7 1925.6 368.0 1923.8 369.2 1922.0 370.4 1920.1 371.4 1918.2 372.3 1916.2 373.2 1914.2 374.0 1912.2 374.7 1910.2 375.4 1908.1 376.0 1906.1 376.6 1904.1 377.2 1902.0 377.8 1900.0 378.3 1898.1 378.8 1896.1 379.3 1894.1 379.8 1892.1 380.3 1890.2 380.7 1888.2 381.2 1886.3 381.6 1884.4 382.0 1882.4 382.4 1880.5 382.8 1878.6 383.2 1876.7 383.6 1874.8 384.0 1872.9 384.4 1871.0 384.8 1869.1 385.3 1867.2 385.7 1865.4 386.1 1863.5 386.5 1861.6 387.0 1859.7 387.5 1857.9 388.0 1856.0 388.5 1854.1 389.0 1852.3 389.6 1850.4 390.1 1848.5 390.7 1846.7 391.4 1844.8 392.0 1842.9 392.7 1841.1 393.4 1839.2 394.2 1837.3 395.0 1835.4 395.9 1833.6 396.7 1831.7 397.7 1829.8 398.6 1827.9 399.6 1826.0 400.7 1824.2 401.8 1822.3 403.0 1820.5 404.2 1818.8 405.5 1817.2 406.8 1815.6 408.2 1814.1 409.6 1812.7 411.1 1811.4 412.7 1810.2 414.4 1809.2 416.1 1808.3 417.8 1807.6 419.7 1807.0 421.6 1806.6 423.5 1806.4 425.5 1806.2 427.6 1806.2 429.6 1806.3 431.6 1806.4 433.6 1806.6 435.6 1806.8 437.6 1807.0 439.6 1807.3 441.6 1807.6 443.5 1807.9 445.5 1808.3 447.4 1808.8 449.3 1809.2 451.2 1809.7 453.1 1810.2 455.0 1810.8 456.9 1811.4 458.8 1812.0 460.7 1812.6 462.5 1813.3 464.4 1813.9 466.2 1814.6 468.1 1815.4 469.9 1816.1 471.7 1816.9 473.6 1817.7 475.4 1818.5 477.2 1819.3 479.0 1820.2 480.8 1821.1 482.6 1821.9 484.4 1822.8 486.2 1823.7 488.0 1824.6 489.8 1825.6 491.6 1826.5 493.3 1827.4 495.1 1828.4 496.9 1829.3 498.7 1830.3 500.5 1831.2 502.2 1832.2 504.0 1833.2 505.8 1834.1 507.6 1835.1 509.4 1836.0 511.1 1837.0 512.9 1837.9 514.7 1838.9 516.5 1839.8 518.3 1840.8 520.1 1841.7 521.9 1842.6 523.7 1843.5 525.5 1844.4 527.3 1845.3 529.1 1846.2 530.9 1847.0 532.8 1847.8 534.6 1848.7 536.4 1849.5 538.3 1850.3 540.1 1851.0 542.0 1851.8 543.8 1852.5 545.7 1853.2 547.6 1853.8 549.5 1854.5 551.4 1855.1 553.3 1855.7 555.2 1856.3 557.1 1856.9 559.0 1857.5 560.9 1858.1 562.8 1858.7 564.7 1859.3 566.6 1860.0 568.4 1860.6 570.3 1861.3 572.1 1862.0 574.0 1862.7 575.8 1863.4 577.6 1864.2 579.3 1865.1 581.1 1865.9 582.8 1866.9 584.6 1867.8 586.3 1868.8 588.0 1869.8 589.6 1870.9 591.3 1871.9 592.9 1873.0 594.6 1874.2 596.2 1875.3 597.8 1876.5 599.4 1877.6 601.0 1878.8 602.6 1880.1 604.2 1881.3 605.8 1882.5 607.4 1883.8 608.9 1885.0 610.5 1886.2 612.1 1887.5 613.6 1888.7 615.2 1890.0 616.8 1891.3 618.3 1892.5 619.9 1893.8 621.4 1895.0 623.0 1896.3 624.6 1897.6 626.1 1898.8 627.7 1900.1 629.3 1901.3 630.8 1902.6 632.4 1903.8 634.0 1905.1 635.5 1906.3 637.1 1907.6 638.7 1908.8 640.3 1910.0 641.8 1911.2 643.4 1912.5 645.0 1913.7 646.6 1914.9 648.2 1916.1 649.8 1917.3 651.4 1918.5 653.1 1919.6 654.7 1920.8 656.3 1922.0 658.0 1923.1 659.6 1924.2 661.2 1925.4 662.9 1926.5 664.6 1927.6 666.2 1928.7 667.9 1929.8 669.6 1930.9 671.3 1931.9 673.0 1933.0 674.7 1934.1 676.4 1935.1 678.1 1936.1 679.8 1937.2 681.6 1938.2 683.3 1939.2 685.0 1940.2 686.8 1941.1 688.5 1942.1 690.3 1943.1 692.0 1944.0 693.8 1945.0 695.6 1945.9 697.4 1946.8 699.1 1947.8 700.9 1948.7 702.7 1949.6 704.5 1950.5 706.3 1951.3 708.1 1952.2 709.9 1953.1 711.7 1953.9 713.6 1954.7 715.4 1955.6 717.2 1956.4 719.0 1957.2 720.9 1958.0 722.7 1958.8 724.6 1959.6 726.4 1960.3 728.3 1961.1 730.1 1961.8 732.0 1962.6 733.9 1963.3 735.7 1964.0 737.6 1964.7 739.5 1965.4 741.4 1966.1 743.2 1966.8 745.1 1967.5 747.0 1968.1 748.9 1968.8 750.8 1969.4 752.7 1970.1 754.6 1970.7 756.5 1971.3 758.4 1971.9 760.3 1972.5 762.2 1973.1 764.2 1973.6 766.1 1974.2 768.0 1974.8 769.9 1975.3 771.8 1975.8 773.8 1976.4 775.7 1976.9 777.6 1977.4 779.6 1977.9 781.5 1978.4 783.4 1978.8 785.4 1979.3 787.3 1979.7 789.3 1980.2 791.2 1980.6 793.2 1981.1 795.1 1981.5 797.1 1981.9 799.0 1982.3 801.0 1982.6 802.9 1983.0 804.9 1983.4 806.8 1983.7 808.8 1984.1 810.7 1984.4 812.7 1984.8 814.7 1985.1 816.6 1985.4 818.6 1985.7 820.6 1986.0 822.5 1986.3 824.5 1986.6 826.5 1986.8 828.4 1987.1 830.4 1987.4 832.4 1987.6 834.4 1987.9 836.3 1988.1 838.3 1988.3 840.3 1988.5 842.3 1988.8 844.3 1989.0 846.2 1989.2 848.2 1989.3 850.2 1989.5 852.2 1989.7 854.2 1989.9 856.2 1990.1 858.1 1990.2 860.1 1990.4 862.1 1990.5 864.1 1990.7 866.1 1990.8 868.1 1990.9 870.1 1991.1 872.1 1991.2 874.1 1991.3 876.1 1991.4 878.1 1991.5 880.1 1991.6 882.0 1991.7 884.0 1991.8 886.0 1991.9 888.0 1992.0 890.0 1992.1 892.0 1992.1 894.0 1992.2 896.0 1992.3 898.0 1992.3 900.0 1992.4 902.1 1992.4 904.1 1992.5 906.1 1992.6 908.1 1992.6 910.1 1992.6 912.1 1992.7 914.1 1992.7 916.1 1992.8 918.1 1992.8 920.1 1992.8 922.1 1992.8 924.1 1992.9 926.1 1992.9 928.1 1992.9 930.1 1992.9 932.1 1993.0 934.2 1993.0 936.2 1993.0 938.2 1993.0 940.2 1993.0 942.2 1993.0 944.2 1993.0 946.2 1993.1 948.2 1993.1 950.2 1993.1 952.2 1993.1 954.3 1993.1 956.3 1993.1 958.3 1993.1 960.3 1993.1 962.3 1993.1 964.3 1993.1 966.3 1993.1 968.3 1993.1 970.3 1993.1 972.3 1993.2 974.4 1993.2 976.4 1993.2 978.4 1993.2 980.4 1993.2 982.4 1993.2 984.4 1993.2 986.4 1993.2 988.4 1993.3 990.4 1993.3 992.4 1993.3 994.4 1993.3 996.5 1993.3 998.5 1993.4 1000.5 1993.4 1002.5 1993.4 1004.5 1993.4 1006.5 1993.5 1008.5 1993.5 1010.5 1993.5 1012.5 1993.6 1014.5 1993.6 1016.5 1993.6 1018.5 1993.7 1020.5 1993.7 1022.5 1993.7 1024.5 1993.8 1026.6 1993.8 1028.6 1993.9 1030.6 1993.9 1032.6 1993.9 1034.6 1994.0 1036.6 1994.0 1038.6 1994.1 1040.6 1994.1 1042.6 1994.2 1044.6 1994.2 1046.6 1994.3 1048.6 1994.3 1050.6 1994.4 1052.6 1994.4 1054.6 1994.5 1056.6 1994.5 1058.6 1994.6 1060.6 1994.6 1062.6 1994.7 1064.6 1994.7 1066.6 1994.8 1068.6 1994.8 1070.6 1994.9 1072.6 1995.0 1074.6 1995.0 1076.6 1995.1 1078.6 1995.1 1080.7 1995.2 1082.7 1995.3 1084.7 1995.3 1086.7 1995.4 1088.7 1995.5 1090.7 1995.5 1092.7 1995.6 1094.7 1995.6 1096.7 1995.7 1098.7 1995.8 1100.7 1995.9 1102.7 1995.9 1104.7 1996.0 1106.7 1996.1 1108.7 1996.1 1110.7 1996.2 1112.7 1996.3 1114.7 1996.3 1116.7 1996.4 1118.7 1996.5 1120.7 1996.6 1122.7 1996.6 1124.7 1996.7 1126.7 1996.8 1128.7 1996.9 1130.7 1996.9 1132.7 1997.0 1134.7 1997.1 1136.7 1997.2 1138.7 1997.3 1140.7 1997.3 1142.7 1997.4 1144.7 1997.5 1146.7 1997.6 1148.7 1997.7 1150.7 1997.7 1152.7 1997.8 1154.7 1997.9 1156.7 1998.0 1158.6 1998.1 1160.6 1998.1 1162.6 1998.2 1164.6 1998.3 1166.6 1998.4 1168.6 1998.5 1170.6 1998.6 1172.6 1998.6 1174.6 1998.7 1176.6 1998.8 1178.6 1998.9 1180.6 1999.0 1182.6 1999.1 1184.6 1999.1 1186.6 1999.2 1188.6 1999.3 1190.6 1999.4 1192.6 1999.5 1194.6 1999.6 1196.6 1999.7 1198.6 1999.7 1200.6 1999.8 1202.6 1999.9 1204.6 2000.0 1206.6 2000.1 1208.6 2000.2 1210.6 2000.3 1212.6 2000.4 1214.6 2000.4 1216.6 2000.5 1218.6 2000.6 1220.6 2000.7 1222.6 2000.8 1224.6 2000.9 1226.6 2001.0 1228.6 2001.0 1230.6 2001.1 1232.6 2001.2 1234.6 2001.3 1236.6 2001.4 1238.6 2001.5 1240.6 2001.6 1242.6 2001.7 1244.5 2001.7 1246.5 2001.8 1248.5 2001.9 1250.5 2002.0 1252.5 2002.1 1254.5 2002.2 1256.5 2002.3 1258.5 2002.3 1260.5 2002.4 1262.5 2002.5 1264.5 2002.6 1266.5 2002.7 1268.5 2002.8 1270.5 2002.8 1272.5 2002.9 1274.5 2003.0 1276.5 2003.1 1278.5 2003.2 1280.5 2003.3 1282.5 2003.3 1284.5 2003.4 1286.5 2003.5 1288.5 2003.6 1290.5 2003.7 1292.5 2003.8 1294.5 2003.8 1296.5 2003.9 1298.5 2004.0 1300.5 2004.1 1302.5 2004.1 1304.5 2004.2 1306.5 2004.3 1308.5 2004.4 1310.5 2004.5 1312.5 2004.5 1314.5 2004.6 1316.5 2004.7 1318.5 2004.8 1320.5 2004.8 1322.5 2004.9 1324.5 2005.0 1326.5 2005.1 1328.5 2005.1 1330.5 2005.2 1332.5 2005.3 1334.5 2005.4 1336.4 2005.4 1338.4 2005.5 1340.4 2005.6 1342.4 2005.7 1344.4 2005.7 1346.4 2005.8 1348.4 2005.9 1350.4 2005.9 1352.4 2006.0 1354.4 2006.1 1356.4 2006.2 1358.4 2006.2 1360.4 2006.3 1362.4 2006.4 1364.4 2006.4 1366.4 2006.5 1368.4 2006.6 1370.4 2006.6 1372.4 2006.7 1374.4 2006.8 1376.4 2006.8 1378.4 2006.9 1380.4 2007.0 1382.4 2007.0 1384.4 2007.1 1386.4 2007.2 1388.4 2007.2 1390.4 2007.3 1392.4 2007.4 1394.4 2007.4 1396.4 2007.5 1398.4 2007.6 1400.4 2007.6 1402.4 2007.7 1404.4 2007.7 1406.4 2007.8 1408.4 2007.9 1410.4 2007.9 1412.4 2008.0 1414.4 2008.1 1416.4 2008.1 1418.4 2008.2 1420.4 2008.2 1422.4 2008.3 1424.4 2008.4 1426.4 2008.4 1428.4 2008.5 1430.4 2008.5 1432.4 2008.6 1434.4 2008.6 1436.4 2008.7 1438.4 2008.8 1440.4 2008.8 1442.4 2008.9 1444.4 2008.9 1446.4 2009.0 1448.4 2009.1 1450.4 2009.1 1452.4 2009.2 1454.4 2009.2 1456.4 2009.3 1458.4 2009.3 1460.4 2009.4 1462.4 2009.4 1464.4 2009.5 1466.4 2009.6 1468.4 2009.6 1470.4 2009.7 1472.4 2009.7 1474.4 2009.8 1476.4 2009.8 1478.4 2009.9 1480.4 2009.9 1482.4 2010.0 1484.4 2010.0 1486.4 2010.1 1488.4 2010.1 1490.4 2010.2 1492.4 2010.2 1494.4 2010.3 1496.4 2010.3 1498.4 2010.4 1500.4 2010.4 1502.4 2010.5 1504.4 2010.5 1506.4 2010.6 1508.4 2010.6 1510.4 2010.7 1512.4 2010.7 1514.4 2010.8 1516.4 2010.8 1518.4 2010.9 1520.4 2010.9 1522.4 2011.0 1524.4 2011.0 1526.4 2011.1 1528.4 2011.1 1530.4 2011.2 1532.4 2011.2 1534.4 2011.3 1536.4 2011.3 1538.4 2011.4 1540.4 2011.4 1542.4 2011.4 1544.4 2011.5 1546.4 2011.5 1548.4 2011.6 1550.4 2011.6 1552.5 2011.7 1554.5 2011.7 1556.5 2011.8 1558.5 2011.8 1560.5 2011.8 1562.5 2011.9 1564.5 2011.9 1566.5 2012.0 1568.5 2012.0 1570.5 2012.1 1572.5 2012.1 1574.5 2012.1 1576.5 2012.2 1578.5 2012.2 1580.5 2012.3 1582.5 2012.3 1584.5 2012.4 1586.5 2012.4 1588.5 2012.4 1590.5 2012.5 1592.5 2012.5 1594.5 2012.6 1596.5 2012.6 1598.5 2012.6 1600.5 2012.7 1602.5 2012.7 1604.5 2012.8 1606.5 2012.8 1608.5 2012.8 1610.5 2012.9 1612.5 2012.9 1614.5 2012.9 1616.5 2013.0 1618.5 2013.0 1620.5 2013.1 1622.5 2013.1 1624.5 2013.1 1626.5 2013.2 1628.5 2013.2 1630.5 2013.2 1632.5 2013.3 1634.5 2013.3 1636.5 2013.4 1638.5 2013.4 1640.5 2013.4 1642.5 2013.5 1644.5 2013.5 1646.5 2013.5 1648.5 2013.6 1650.5 2013.6 1652.5 2013.6 1654.5 2013.7 1656.5 2013.7 1658.5 2013.8 1660.5 2013.8 1662.5 2013.8 1664.5 2013.9 1666.5 2013.9 1668.5 2013.9 1670.6 2014.0 1672.6 2014.0 1674.6 2014.0 1676.6 2014.1 1678.6 2014.1 1680.6 2014.1 1682.6 2014.2 1684.6 2014.2 1686.6 2014.2 1688.6 2014.3 1690.6 2014.3 1692.6 2014.3 1694.6 2014.4 1696.6 2014.4 1698.6 2014.4 1700.6 2014.5 1702.6 2014.5 1704.6 2014.5 1706.6 2014.5 1708.6 2014.6 1710.6 2014.6 1712.6 2014.6 1714.6 2014.7 1716.6 2014.7 1718.6 2014.7 1720.6 2014.8 1722.6 2014.8 1724.6 2014.8 1726.6 2014.9 1728.6 2014.9 1730.6 2014.9 1732.6 2014.9 1734.6 2015.0 1736.6 2015.0 1738.6 2015.0 1740.6 2015.1 1742.6 2015.1 1744.6 2015.1 1746.6 2015.2 1748.6 2015.2 1750.6 2015.2 1752.6 2015.2 1754.6 2015.3 1756.6 2015.3 1758.6 2015.3 1760.6 2015.4 1762.7 2015.4 1764.7 2015.4 1766.7 2015.4 1768.7 2015.5 1770.7 2015.5 1772.7 2015.5 1774.7 2015.5 1776.7 2015.6 1778.7 2015.6 1780.7 2015.6 1782.7 2015.7 1784.7 2015.7 1786.7 2015.7 1788.7 2015.7 1790.7 2015.8 1792.7 2015.8 1794.7 2015.8 1796.7 2015.8 1798.7 2015.9 1800.7 2015.9 1802.7 2015.9 1804.7 2016.0 1806.7 2016.0 1808.7 2016.0 1810.7 2016.0 1812.7 2016.1 1814.7 2016.1 1816.7 2016.1 1818.7 2016.1 1820.7 2016.2 1822.7 2016.2 1824.7 2016.2 1826.7 2016.2 1828.7 2016.3 1830.7 2016.3 1832.7 2016.3 1834.7 2016.3 1836.7 2016.4 1838.7 2016.4 1840.7 2016.4 1842.7 2016.4 1844.7 2016.5 1846.8 2016.5 1848.8 2016.5 1850.8 2016.5 1852.8 2016.6 1854.8 2016.6 1856.8 2016.6 1858.8 2016.6 1860.8 2016.7 1862.8 2016.7 1864.8 2016.7 1866.8 2016.7 1868.8 2016.8 1870.8 2016.8 1872.8 2016.8 1874.8 2016.8 1876.8 2016.9 1878.8 2016.9 1880.8 2016.9 1882.8 2016.9 1884.8 2017.0 1886.8 2017.0 1888.8 2017.0 1890.8 2017.0 1892.8 2017.1 1894.8 2017.1 1896.8 2017.1 1898.8 2017.1 1900.8 2017.2 1902.8 2017.2 1904.8 2017.2 1906.8 2017.2 1908.8 2017.3 1910.8 2017.3 1912.8 2017.3 1914.8 2017.3 1916.8 2017.3 1918.8 2017.4 1920.8 2017.4 1922.8 2017.4 1924.8 2017.4 1926.8 2017.5 1928.8 2017.5 1930.8 2017.5 1932.8 2017.5 1934.8 2017.6 1936.9 2017.6 1938.9 2017.6 1940.9 2017.6 1942.9 2017.7 1944.9 2017.7 1946.9 2017.7 1948.9 2017.7 1950.9 2017.8 1952.9 2017.8 1954.9 2017.8 1956.9 2017.8 1958.9 2017.8 1960.9 2017.9 1962.9 2017.9 1964.9 2017.9 1966.9 2017.9 1968.9 2018.0 1970.9 2018.0 1972.9 2018.0 1974.9 2018.0 1976.9 2018.1 1978.9 2018.1 1980.9 2018.1 1982.9 2018.1 1984.9 2018.2 1986.9 2018.2 1988.9 2018.2 1990.9 2018.2 1992.9 2018.3 1994.9 2018.3 1996.9 2018.3 1998.9 2018.3 2000.9 2018.4 2002.9 2018.4 2004.9 2018.4 2006.9 2018.4 2008.9 2018.4 2010.9 2018.5 2012.9 2018.5 2014.9 2018.5 2016.9 2018.5 2018.9 2018.6 2020.9 2018.6 2022.9 2018.6 2024.9 2018.6 2026.9 2018.7 2028.9 2018.7 2030.9 2018.7 2032.9 2018.7 2034.9 2018.8 2036.9 2018.8 2038.9 2018.8 2040.9 2018.8 2042.9 2018.9 2044.9 2018.9 2046.9 2018.9 2049.0 2018.9 2051.0 2019.0 2053.0 2019.0 2055.0 2019.0 2057.0 2019.0 2059.0 2019.1 2061.0 2019.1 2063.0 2019.1 2065.0 2019.1 2067.0 2019.2 2069.0 2019.2 2071.0 2019.2 2073.0 2019.2 2075.0 2019.3 2077.0 2019.3 2079.0 2019.3 2081.0 2019.3 2083.0 2019.4 2085.0 2019.4 2087.0 2019.4 2089.0 2019.5 2091.0 2019.5 2093.0 2019.5 2095.0 2019.5 2097.0 2019.6 2099.0 2019.6 2101.0 2019.6 2103.0 2019.6 2105.0 2019.7 2107.0 2019.7 2109.0 2019.7 2111.0 2019.7 2113.0 2019.8 2115.0 2019.8 2117.0 2019.8 2119.0 2019.9 2121.0 2019.9 2123.0 2019.9 2125.0 2019.9 2127.0 2020.0 2129.0 2020.0 2131.0 2020.0 2133.0 2020.1 2135.0 2020.1 2137.0 2020.1 2139.0 2020.1 2141.0 2020.2 2143.0 2020.2 2145.0 2020.2 2147.0 2020.3 2149.0 2020.3 2151.0 2020.3 2153.0 2020.3 2155.0 2020.4 2157.0 2020.4 2159.0 2020.4 2161.0 2020.5 2163.0 2020.5 2165.0 2020.5 2167.0 2020.5 2169.0 2020.6 2171.0 2020.6 2173.0 2020.6 2175.0 2020.7 2177.0 2020.7 2179.0 2020.7 2181.0 2020.8 2183.0 2020.8 2185.0 2020.8 2187.0 2020.9 2189.0 2020.9 2191.0 2020.9 2193.0 2020.9 2195.0 2021.0 2197.0 2021.0 2199.0 2021.0 2201.0 2021.1 2203.0 2021.1 2205.0 2021.1 2207.0 2021.2 2209.0 2021.2 2211.0 2021.2 2213.0 2021.3 2215.0 2021.3 2217.0 2021.3 2219.0 2021.4 2221.0 2021.4 2223.0 2021.4 2225.0 2021.5 2227.0 2021.5 2229.0 2021.5 2231.0 2021.6 2233.0 2021.6 2235.0 2021.6 2237.0 2021.7 2239.0 2021.7 2241.0 2021.7 2243.0 2021.8 2245.0 2021.8 2247.0 2021.9 2249.0 2021.9 2251.0 2021.9 2253.0 2022.0 2255.0 2022.0 2257.0 2022.0 2259.0 2022.1 2261.0 2022.1 2263.0 2022.1 2265.0 2022.2 2267.0 2022.2 2269.0 2022.3 2271.0 2022.3 2273.0 2022.3 2275.0 2022.4 2277.0 2022.4 2279.0 2022.4 2281.0 2022.5"/></g><line x1="1672" y1="804.7" x2="1851" y2="804.7" stroke="#ff7f00" stroke-width="9.0" stroke-linecap="round"/><line x1="1672" y1="905.6" x2="1851" y2="905.6" stroke="#ff00ff" stroke-width="9.0" stroke-linecap="round"/><line x1="1672" y1="1005.6" x2="1851" y2="1005.6" stroke="#0000ff" stroke-width="9.0" stroke-linecap="round"/><line x1="1678" y1="1301.2" x2="1855" y2="1301.2" stroke="#ff7f00" stroke-width="9.0" stroke-linecap="round"/><line x1="1678" y1="1402" x2="1855" y2="1402" stroke="#ff00ff" stroke-width="9.0" stroke-linecap="round"/><line x1="1678" y1="1501.5" x2="1855" y2="1501.5" stroke="#0000ff" stroke-width="9.0" stroke-linecap="round"/><g font-family="Liberation Serif, Times New Roman, serif" font-weight="bold" fill="#000"><text font-size="100" transform="matrix(0.71500 0 0 0.73800 150.41 115.15)">300</text><text font-size="100" transform="matrix(0.71500 0 0 0.73800 151.21 448.30)">200</text><text font-size="100" transform="matrix(0.71500 0 0 0.73800 150.11 781.22)">100</text><text font-size="100" transform="matrix(0.71500 0 0 0.73800 222.51 1113.10)">0</text><text font-size="100" transform="matrix(0.70427 0 0 0.73800 132.88 1213.45)">0.03</text><text font-size="100" transform="matrix(0.70427 0 0 0.73800 131.88 1498.15)">0.02</text><text font-size="100" transform="matrix(0.70427 0 0 0.73800 131.88 1783.77)">0.01</text><text font-size="100" transform="matrix(0.70427 0 0 0.73800 132.88 2068.15)">0.00</text><text font-size="100" transform="matrix(0.71500 0 0 0.73800 278.02 2285.90)">0</text><text font-size="100" transform="matrix(0.71500 0 0 0.73800 775.88 2285.55)">6</text><text font-size="100" transform="matrix(0.71500 0 0 0.73800 1252.92 2285.99)">12</text><text font-size="100" transform="matrix(0.71500 0 0 0.73800 1750.51 2285.72)">18</text><text font-size="100" transform="matrix(0.71500 0 0 0.73800 2244.28 2285.72)">24</text><text font-size="100" transform="matrix(0.79501 0 0 0.76000 1143.41 2379.44)">Time (h)</text><text font-size="100" transform="matrix(1.46759 0 0 1.48000 377.13 226.22)">(a)</text><text font-size="100" transform="matrix(1.45175 0 0 1.48000 377.19 1319.92)">(b)</text><text font-size="100" transform="matrix(0.78934 0 0 0.79701 1869.85 828.81)">SWF20-50</text><text font-size="100" transform="matrix(0.78330 0 0 0.77164 1872.23 928.16)">NWF20-50</text><text font-size="100" transform="matrix(0.77790 0 0 0.77164 1873.94 1029.16)">KWF20-50</text><text font-size="100" transform="matrix(0.79184 0 0 0.82239 1874.04 1326.36)">SWF20-50</text><text font-size="100" transform="matrix(0.78308 0 0 0.82388 1876.43 1427.35)">NWF20-50</text><text font-size="100" transform="matrix(0.78541 0 0 0.79701 1876.43 1526.41)">KWF20-50</text><text font-size="100" transform="matrix(0 -0.79165 0.75000 0 113.25 1137.96)">Cumulative hydration heat (J/g)</text><text font-size="100" transform="matrix(0 -0.79173 0.77692 0 98.68 1960.58)">Heat flow (W/g)</text></g>
</svg></body></html>
